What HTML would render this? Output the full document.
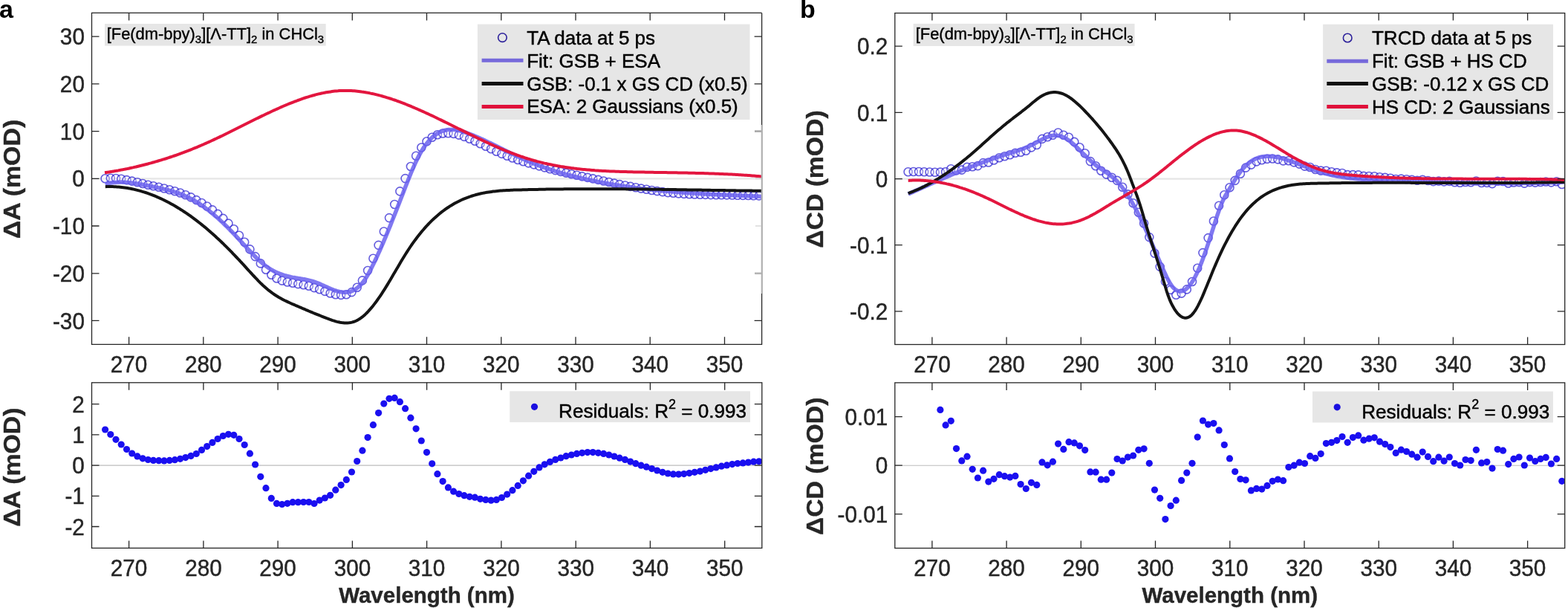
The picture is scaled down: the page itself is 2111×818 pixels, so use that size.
<!DOCTYPE html>
<html><head><meta charset="utf-8"><style>
html,body{margin:0;padding:0;background:#fff;}
svg{display:block;font-family:"Liberation Sans", Arial, Helvetica, sans-serif;}
</style></head><body>
<svg width="2111" height="818" viewBox="0 0 2111 818">
<rect width="2111" height="818" fill="#fff"/>
<line x1="123.5" y1="240.3" x2="1025.6" y2="240.3" stroke="#e6e6e6" stroke-width="2.2"/>
<line x1="123.5" y1="626.1" x2="1025.8" y2="626.1" stroke="#bcbcbc" stroke-width="1.1"/>
<line x1="1204.8" y1="240.6" x2="2106.7" y2="240.6" stroke="#e6e6e6" stroke-width="2.2"/>
<line x1="1204.8" y1="626.2" x2="2106.7" y2="626.2" stroke="#bcbcbc" stroke-width="1.1"/>
<rect x="141" y="32" width="297.7" height="29.6" fill="#e6e6e6"/>
<rect x="1229.6" y="31.9" width="297.9" height="30.1" fill="#e6e6e6"/>
<text x="143.7" y="52.6" font-size="20.5" fill="#000" stroke="#000" stroke-width="0.35" textLength="292.5" lengthAdjust="spacingAndGlyphs" transform="matrix(1 0 0 1.11 0 -5.79)">[Fe(dm-bpy)<tspan font-size="14" dy="5">3</tspan><tspan dy="-5">][Λ-TT]</tspan><tspan font-size="14" dy="5">2</tspan><tspan dy="-5"> in CHCl</tspan><tspan font-size="14" dy="5">3</tspan></text>
<text x="1232.7" y="52.8" font-size="20.5" fill="#000" stroke="#000" stroke-width="0.35" textLength="293" lengthAdjust="spacingAndGlyphs" transform="matrix(1 0 0 1.11 0 -5.81)">[Fe(dm-bpy)<tspan font-size="14" dy="5">3</tspan><tspan dy="-5">][Λ-TT]</tspan><tspan font-size="14" dy="5">2</tspan><tspan dy="-5"> in CHCl</tspan><tspan font-size="14" dy="5">3</tspan></text>
<clipPath id="c139893424573904"><rect x="123.5" y="17.4" width="902.0999999999999" height="445.90000000000003"/></clipPath>
<g clip-path="url(#c139893424573904)">
<g fill="#fff" fill-opacity="0.3" stroke="#2418d0" stroke-opacity="0.7" stroke-width="1.6"><circle cx="141.6" cy="240.2" r="5.5"/><circle cx="148.8" cy="239.7" r="5.5"/><circle cx="156.0" cy="240.0" r="5.5"/><circle cx="163.2" cy="240.8" r="5.5"/><circle cx="170.5" cy="242.1" r="5.5"/><circle cx="177.7" cy="243.6" r="5.5"/><circle cx="184.9" cy="245.3" r="5.5"/><circle cx="192.1" cy="247.0" r="5.5"/><circle cx="199.3" cy="248.7" r="5.5"/><circle cx="206.5" cy="250.3" r="5.5"/><circle cx="213.8" cy="251.8" r="5.5"/><circle cx="221.0" cy="253.5" r="5.5"/><circle cx="228.2" cy="255.2" r="5.5"/><circle cx="235.4" cy="257.3" r="5.5"/><circle cx="242.6" cy="259.5" r="5.5"/><circle cx="249.8" cy="262.2" r="5.5"/><circle cx="257.0" cy="265.4" r="5.5"/><circle cx="264.3" cy="269.1" r="5.5"/><circle cx="271.5" cy="273.0" r="5.5"/><circle cx="278.7" cy="277.5" r="5.5"/><circle cx="285.9" cy="282.4" r="5.5"/><circle cx="293.1" cy="287.9" r="5.5"/><circle cx="300.3" cy="293.9" r="5.5"/><circle cx="307.5" cy="300.6" r="5.5"/><circle cx="314.8" cy="308.2" r="5.5"/><circle cx="322.0" cy="316.7" r="5.5"/><circle cx="329.2" cy="325.8" r="5.5"/><circle cx="336.4" cy="335.4" r="5.5"/><circle cx="343.6" cy="345.1" r="5.5"/><circle cx="350.8" cy="354.4" r="5.5"/><circle cx="358.0" cy="362.7" r="5.5"/><circle cx="365.3" cy="369.7" r="5.5"/><circle cx="372.5" cy="374.5" r="5.5"/><circle cx="379.7" cy="377.6" r="5.5"/><circle cx="386.9" cy="379.5" r="5.5"/><circle cx="394.1" cy="380.8" r="5.5"/><circle cx="401.3" cy="382.1" r="5.5"/><circle cx="408.6" cy="383.3" r="5.5"/><circle cx="415.8" cy="384.8" r="5.5"/><circle cx="423.0" cy="387.1" r="5.5"/><circle cx="430.2" cy="389.2" r="5.5"/><circle cx="437.4" cy="391.9" r="5.5"/><circle cx="444.6" cy="394.5" r="5.5"/><circle cx="451.8" cy="396.2" r="5.5"/><circle cx="459.1" cy="396.9" r="5.5"/><circle cx="466.3" cy="396.2" r="5.5"/><circle cx="473.5" cy="393.1" r="5.5"/><circle cx="480.7" cy="386.8" r="5.5"/><circle cx="487.9" cy="377.4" r="5.5"/><circle cx="495.1" cy="364.0" r="5.5"/><circle cx="502.4" cy="347.7" r="5.5"/><circle cx="509.6" cy="329.9" r="5.5"/><circle cx="516.8" cy="311.5" r="5.5"/><circle cx="524.0" cy="293.1" r="5.5"/><circle cx="531.2" cy="275.0" r="5.5"/><circle cx="538.4" cy="257.4" r="5.5"/><circle cx="545.6" cy="240.1" r="5.5"/><circle cx="552.9" cy="224.0" r="5.5"/><circle cx="560.1" cy="209.8" r="5.5"/><circle cx="567.3" cy="198.5" r="5.5"/><circle cx="574.5" cy="190.3" r="5.5"/><circle cx="581.7" cy="184.7" r="5.5"/><circle cx="588.9" cy="181.3" r="5.5"/><circle cx="596.1" cy="179.5" r="5.5"/><circle cx="603.4" cy="179.2" r="5.5"/><circle cx="610.6" cy="179.9" r="5.5"/><circle cx="617.8" cy="181.6" r="5.5"/><circle cx="625.0" cy="183.9" r="5.5"/><circle cx="632.2" cy="186.8" r="5.5"/><circle cx="639.4" cy="189.8" r="5.5"/><circle cx="646.6" cy="193.3" r="5.5"/><circle cx="653.9" cy="196.7" r="5.5"/><circle cx="661.1" cy="200.3" r="5.5"/><circle cx="668.3" cy="203.7" r="5.5"/><circle cx="675.5" cy="206.9" r="5.5"/><circle cx="682.7" cy="209.8" r="5.5"/><circle cx="689.9" cy="212.5" r="5.5"/><circle cx="697.2" cy="215.0" r="5.5"/><circle cx="704.4" cy="217.3" r="5.5"/><circle cx="711.6" cy="219.4" r="5.5"/><circle cx="718.8" cy="221.4" r="5.5"/><circle cx="726.0" cy="223.4" r="5.5"/><circle cx="733.2" cy="225.4" r="5.5"/><circle cx="740.4" cy="227.3" r="5.5"/><circle cx="747.7" cy="229.1" r="5.5"/><circle cx="754.9" cy="230.9" r="5.5"/><circle cx="762.1" cy="232.6" r="5.5"/><circle cx="769.3" cy="234.3" r="5.5"/><circle cx="776.5" cy="235.8" r="5.5"/><circle cx="783.7" cy="237.4" r="5.5"/><circle cx="791.0" cy="238.9" r="5.5"/><circle cx="798.2" cy="240.4" r="5.5"/><circle cx="805.4" cy="241.9" r="5.5"/><circle cx="812.6" cy="243.5" r="5.5"/><circle cx="819.8" cy="245.0" r="5.5"/><circle cx="827.0" cy="246.6" r="5.5"/><circle cx="834.2" cy="248.1" r="5.5"/><circle cx="841.5" cy="249.5" r="5.5"/><circle cx="848.7" cy="250.9" r="5.5"/><circle cx="855.9" cy="252.3" r="5.5"/><circle cx="863.1" cy="253.6" r="5.5"/><circle cx="870.3" cy="254.8" r="5.5"/><circle cx="877.5" cy="256.0" r="5.5"/><circle cx="884.7" cy="257.1" r="5.5"/><circle cx="892.0" cy="258.1" r="5.5"/><circle cx="899.2" cy="259.1" r="5.5"/><circle cx="906.4" cy="259.8" r="5.5"/><circle cx="913.6" cy="260.4" r="5.5"/><circle cx="920.8" cy="260.9" r="5.5"/><circle cx="928.0" cy="261.3" r="5.5"/><circle cx="935.2" cy="261.5" r="5.5"/><circle cx="942.5" cy="261.8" r="5.5"/><circle cx="949.7" cy="261.9" r="5.5"/><circle cx="956.9" cy="262.1" r="5.5"/><circle cx="964.1" cy="262.2" r="5.5"/><circle cx="971.3" cy="262.3" r="5.5"/><circle cx="978.5" cy="262.4" r="5.5"/><circle cx="985.8" cy="262.5" r="5.5"/><circle cx="993.0" cy="262.7" r="5.5"/><circle cx="1000.2" cy="262.9" r="5.5"/><circle cx="1007.4" cy="263.0" r="5.5"/><circle cx="1014.6" cy="263.2" r="5.5"/><circle cx="1021.8" cy="263.4" r="5.5"/></g>
<path d="M141.6 247.6 L143.6 247.1 L145.6 246.7 L147.6 246.3 L149.6 246.0 L151.6 245.8 L153.6 245.5 L155.6 245.4 L157.6 245.3 L159.6 245.2 L161.6 245.1 L163.6 245.1 L165.6 245.2 L167.6 245.3 L169.6 245.4 L171.6 245.5 L173.6 245.7 L175.6 245.9 L177.6 246.1 L179.6 246.4 L181.6 246.7 L183.6 247.0 L185.6 247.3 L187.6 247.6 L189.6 248.0 L191.6 248.3 L193.6 248.7 L195.6 249.1 L197.6 249.5 L199.6 249.9 L201.6 250.3 L203.6 250.7 L205.6 251.1 L207.6 251.5 L209.6 251.9 L211.6 252.3 L213.6 252.8 L215.6 253.2 L217.6 253.7 L219.6 254.1 L221.6 254.6 L223.6 255.1 L225.6 255.6 L227.6 256.1 L229.6 256.7 L231.6 257.2 L233.6 257.8 L235.6 258.5 L237.6 259.1 L239.6 259.8 L241.6 260.5 L243.6 261.3 L245.6 262.1 L247.6 262.9 L249.6 263.8 L251.6 264.7 L253.6 265.6 L255.6 266.6 L257.6 267.7 L259.6 268.8 L261.6 269.9 L263.6 271.1 L265.6 272.3 L267.6 273.6 L269.6 274.9 L271.6 276.2 L273.6 277.7 L275.6 279.1 L277.6 280.6 L279.6 282.1 L281.6 283.7 L283.6 285.3 L285.6 286.9 L287.6 288.6 L289.6 290.3 L291.6 292.0 L293.6 293.8 L295.6 295.6 L297.6 297.5 L299.6 299.3 L301.6 301.2 L303.6 303.2 L305.6 305.1 L307.6 307.1 L309.6 309.2 L311.6 311.2 L313.6 313.3 L315.6 315.4 L317.6 317.5 L319.6 319.7 L321.6 321.8 L323.6 324.0 L325.6 326.2 L327.6 328.4 L329.6 330.5 L331.6 332.7 L333.6 334.9 L335.6 337.0 L337.6 339.1 L339.6 341.2 L341.6 343.2 L343.6 345.2 L345.6 347.2 L347.6 349.1 L349.6 350.9 L351.6 352.7 L353.6 354.4 L355.6 356.1 L357.6 357.6 L359.6 359.1 L361.6 360.5 L363.6 361.8 L365.6 363.0 L367.6 364.2 L369.6 365.2 L371.6 366.2 L373.6 367.1 L375.6 367.9 L377.6 368.7 L379.6 369.4 L381.6 370.1 L383.6 370.7 L385.6 371.2 L387.6 371.8 L389.6 372.2 L391.6 372.7 L393.6 373.1 L395.6 373.4 L397.6 373.8 L399.6 374.1 L401.6 374.5 L403.6 374.8 L405.6 375.1 L407.6 375.5 L409.6 375.8 L411.6 376.2 L413.6 376.6 L415.6 377.1 L417.6 377.6 L419.6 378.1 L421.6 378.7 L423.6 379.3 L425.6 380.1 L427.6 380.8 L429.6 381.6 L431.6 382.5 L433.6 383.4 L435.6 384.3 L437.6 385.2 L439.6 386.1 L441.6 387.0 L443.6 387.9 L445.6 388.7 L447.6 389.5 L449.6 390.3 L451.6 391.0 L453.6 391.6 L455.6 392.1 L457.6 392.6 L459.6 392.9 L461.6 393.2 L463.6 393.3 L465.6 393.3 L467.6 393.1 L469.6 392.8 L471.6 392.3 L473.6 391.6 L475.6 390.8 L477.6 389.7 L479.6 388.4 L481.6 386.9 L483.6 385.2 L485.6 383.2 L487.6 380.9 L489.6 378.4 L491.6 375.5 L493.6 372.4 L495.6 369.0 L497.6 365.3 L499.6 361.5 L501.6 357.6 L503.6 353.5 L505.6 349.3 L507.6 345.1 L509.6 340.7 L511.6 336.3 L513.6 331.7 L515.6 327.1 L517.6 322.4 L519.6 317.7 L521.6 312.9 L523.6 308.0 L525.6 303.1 L527.6 298.1 L529.6 293.1 L531.6 288.0 L533.6 282.9 L535.6 277.8 L537.6 272.7 L539.6 267.5 L541.6 262.4 L543.6 257.2 L545.6 252.1 L547.6 246.9 L549.6 241.9 L551.6 236.9 L553.6 232.0 L555.6 227.3 L557.6 222.8 L559.6 218.4 L561.6 214.2 L563.6 210.3 L565.6 206.6 L567.6 203.1 L569.6 199.9 L571.6 196.9 L573.6 194.1 L575.6 191.6 L577.6 189.2 L579.6 187.1 L581.6 185.1 L583.6 183.4 L585.6 181.8 L587.6 180.4 L589.6 179.1 L591.6 178.0 L593.6 177.1 L595.6 176.3 L597.6 175.7 L599.6 175.2 L601.6 174.8 L603.6 174.6 L605.6 174.4 L607.6 174.4 L609.6 174.5 L611.6 174.6 L613.6 174.9 L615.6 175.2 L617.6 175.6 L619.6 176.1 L621.6 176.6 L623.6 177.2 L625.6 177.9 L627.6 178.5 L629.6 179.3 L631.6 180.0 L633.6 180.8 L635.6 181.6 L637.6 182.4 L639.6 183.2 L641.6 184.1 L643.6 184.9 L645.6 185.8 L647.6 186.7 L649.6 187.6 L651.6 188.5 L653.6 189.5 L655.6 190.4 L657.6 191.4 L659.6 192.3 L661.6 193.3 L663.6 194.3 L665.6 195.2 L667.6 196.2 L669.6 197.2 L671.6 198.2 L673.6 199.2 L675.6 200.2 L677.6 201.2 L679.6 202.2 L681.6 203.2 L683.6 204.2 L685.6 205.2 L687.6 206.1 L689.6 207.1 L691.6 208.1 L693.6 209.0 L695.6 210.0 L697.6 210.9 L699.6 211.9 L701.6 212.8 L703.6 213.7 L705.6 214.6 L707.6 215.5 L709.6 216.4 L711.6 217.2 L713.6 218.1 L715.6 218.9 L717.6 219.7 L719.6 220.5 L721.6 221.3 L723.6 222.0 L725.6 222.8 L727.6 223.5 L729.6 224.3 L731.6 225.0 L733.6 225.7 L735.6 226.4 L737.6 227.1 L739.6 227.7 L741.6 228.4 L743.6 229.0 L745.6 229.7 L747.6 230.3 L749.6 230.9 L751.6 231.5 L753.6 232.1 L755.6 232.7 L757.6 233.3 L759.6 233.8 L761.6 234.4 L763.6 234.9 L765.6 235.5 L767.6 236.0 L769.6 236.5 L771.6 237.0 L773.6 237.5 L775.6 238.0 L777.6 238.5 L779.6 239.0 L781.6 239.5 L783.6 239.9 L785.6 240.4 L787.6 240.8 L789.6 241.3 L791.6 241.7 L793.6 242.1 L795.6 242.5 L797.6 243.0 L799.6 243.4 L801.6 243.8 L803.6 244.2 L805.6 244.6 L807.6 245.0 L809.6 245.3 L811.6 245.7 L813.6 246.1 L815.6 246.4 L817.6 246.8 L819.6 247.2 L821.6 247.5 L823.6 247.8 L825.6 248.2 L827.6 248.5 L829.6 248.8 L831.6 249.2 L833.6 249.5 L835.6 249.8 L837.6 250.1 L839.6 250.4 L841.6 250.7 L843.6 251.0 L845.6 251.3 L847.6 251.6 L849.6 251.8 L851.6 252.1 L853.6 252.4 L855.6 252.6 L857.6 252.9 L859.6 253.2 L861.6 253.4 L863.6 253.7 L865.6 253.9 L867.6 254.1 L869.6 254.4 L871.6 254.6 L873.6 254.8 L875.6 255.1 L877.6 255.3 L879.6 255.5 L881.6 255.7 L883.6 255.9 L885.6 256.1 L887.6 256.3 L889.6 256.5 L891.6 256.7 L893.6 256.9 L895.6 257.1 L897.6 257.2 L899.6 257.4 L901.6 257.6 L903.6 257.8 L905.6 257.9 L907.6 258.1 L909.6 258.3 L911.6 258.4 L913.6 258.6 L915.6 258.7 L917.6 258.9 L919.6 259.0 L921.6 259.2 L923.6 259.3 L925.6 259.5 L927.6 259.6 L929.6 259.8 L931.6 259.9 L933.6 260.0 L935.6 260.1 L937.6 260.3 L939.6 260.4 L941.6 260.5 L943.6 260.6 L945.6 260.8 L947.6 260.9 L949.6 261.0 L951.6 261.1 L953.6 261.2 L955.6 261.3 L957.6 261.4 L959.6 261.5 L961.6 261.6 L963.6 261.7 L965.6 261.8 L967.6 261.9 L969.6 262.0 L971.6 262.1 L973.6 262.2 L975.6 262.3 L977.6 262.4 L979.6 262.5 L981.6 262.6 L983.6 262.7 L985.6 262.8 L987.6 262.8 L989.6 262.9 L991.6 263.0 L993.6 263.1 L995.6 263.2 L997.6 263.3 L999.6 263.3 L1001.6 263.4 L1003.6 263.5 L1005.6 263.6 L1007.6 263.7 L1009.6 263.7 L1011.6 263.8 L1013.6 263.9 L1015.6 264.0 L1017.6 264.1 L1019.6 264.1 L1021.6 264.2 L1023.6 264.3 L1025.2 264.4" fill="none" stroke="#6a60ee" stroke-width="5.5" stroke-linejoin="round" opacity="0.85"/>
<path d="M141.8 251.2 L143.8 251.1 L145.8 251.1 L147.8 251.1 L149.8 251.1 L151.8 251.1 L153.8 251.2 L155.8 251.3 L157.8 251.4 L159.8 251.6 L161.8 251.8 L163.8 252.0 L165.8 252.2 L167.8 252.5 L169.8 252.8 L171.8 253.1 L173.8 253.4 L175.8 253.8 L177.8 254.2 L179.8 254.6 L181.8 255.1 L183.8 255.6 L185.8 256.1 L187.8 256.6 L189.8 257.2 L191.8 257.8 L193.8 258.4 L195.8 259.0 L197.8 259.7 L199.8 260.4 L201.8 261.1 L203.8 261.8 L205.8 262.6 L207.8 263.4 L209.8 264.2 L211.8 265.1 L213.8 266.0 L215.8 266.9 L217.8 267.8 L219.8 268.7 L221.8 269.7 L223.8 270.7 L225.8 271.8 L227.8 272.8 L229.8 273.9 L231.8 275.0 L233.8 276.1 L235.8 277.3 L237.8 278.5 L239.8 279.7 L241.8 280.9 L243.8 282.2 L245.8 283.4 L247.8 284.8 L249.8 286.1 L251.8 287.4 L253.8 288.8 L255.8 290.2 L257.8 291.7 L259.8 293.1 L261.8 294.6 L263.8 296.1 L265.8 297.6 L267.8 299.2 L269.8 300.8 L271.8 302.4 L273.8 304.0 L275.8 305.6 L277.8 307.3 L279.8 309.0 L281.8 310.7 L283.8 312.5 L285.8 314.2 L287.8 316.0 L289.8 317.8 L291.8 319.7 L293.8 321.5 L295.8 323.4 L297.8 325.3 L299.8 327.2 L301.8 329.2 L303.8 331.1 L305.8 333.1 L307.8 335.1 L309.8 337.2 L311.8 339.2 L313.8 341.3 L315.8 343.4 L317.8 345.5 L319.8 347.6 L321.8 349.7 L323.8 351.9 L325.8 354.0 L327.8 356.2 L329.8 358.4 L331.8 360.6 L333.8 362.8 L335.8 365.0 L337.8 367.2 L339.8 369.4 L341.8 371.5 L343.8 373.6 L345.8 375.7 L347.8 377.8 L349.8 379.8 L351.8 381.8 L353.8 383.7 L355.8 385.5 L357.8 387.3 L359.8 389.0 L361.8 390.7 L363.8 392.2 L365.8 393.7 L367.8 395.1 L369.8 396.5 L371.8 397.8 L373.8 399.0 L375.8 400.2 L377.8 401.3 L379.8 402.4 L381.8 403.5 L383.8 404.5 L385.8 405.4 L387.8 406.4 L389.8 407.3 L391.8 408.2 L393.8 409.1 L395.8 409.9 L397.8 410.8 L399.8 411.6 L401.8 412.5 L403.8 413.4 L405.8 414.2 L407.8 415.1 L409.8 415.9 L411.8 416.8 L413.8 417.6 L415.8 418.5 L417.8 419.3 L419.8 420.1 L421.8 421.0 L423.8 421.8 L425.8 422.6 L427.8 423.4 L429.8 424.2 L431.8 425.0 L433.8 425.8 L435.8 426.6 L437.8 427.4 L439.8 428.2 L441.8 428.9 L443.8 429.7 L445.8 430.4 L447.8 431.1 L449.8 431.7 L451.8 432.3 L453.8 432.9 L455.8 433.3 L457.8 433.8 L459.8 434.1 L461.8 434.3 L463.8 434.5 L465.8 434.6 L467.8 434.5 L469.8 434.3 L471.8 434.0 L473.8 433.6 L475.8 433.0 L477.8 432.3 L479.8 431.5 L481.8 430.4 L483.8 429.2 L485.8 427.9 L487.8 426.4 L489.8 424.7 L491.8 422.9 L493.8 421.0 L495.8 418.9 L497.8 416.7 L499.8 414.4 L501.8 412.0 L503.8 409.4 L505.8 406.8 L507.8 404.0 L509.8 401.2 L511.8 398.3 L513.8 395.3 L515.8 392.2 L517.8 389.1 L519.8 385.9 L521.8 382.6 L523.8 379.3 L525.8 375.9 L527.8 372.5 L529.8 369.1 L531.8 365.7 L533.8 362.3 L535.8 358.9 L537.8 355.5 L539.8 352.1 L541.8 348.8 L543.8 345.5 L545.8 342.3 L547.8 339.1 L549.8 336.0 L551.8 333.0 L553.8 330.0 L555.8 327.2 L557.8 324.4 L559.8 321.7 L561.8 319.0 L563.8 316.5 L565.8 314.0 L567.8 311.5 L569.8 309.2 L571.8 306.9 L573.8 304.7 L575.8 302.5 L577.8 300.4 L579.8 298.4 L581.8 296.4 L583.8 294.5 L585.8 292.7 L587.8 290.9 L589.8 289.2 L591.8 287.5 L593.8 285.9 L595.8 284.3 L597.8 282.9 L599.8 281.4 L601.8 280.0 L603.8 278.7 L605.8 277.4 L607.8 276.2 L609.8 275.0 L611.8 273.8 L613.8 272.7 L615.8 271.7 L617.8 270.7 L619.8 269.7 L621.8 268.8 L623.8 267.9 L625.8 267.1 L627.8 266.3 L629.8 265.6 L631.8 264.8 L633.8 264.2 L635.8 263.5 L637.8 262.9 L639.8 262.3 L641.8 261.8 L643.8 261.3 L645.8 260.8 L647.8 260.3 L649.8 259.9 L651.8 259.5 L653.8 259.1 L655.8 258.8 L657.8 258.5 L659.8 258.2 L661.8 257.9 L663.8 257.6 L665.8 257.4 L667.8 257.2 L669.8 257.0 L671.8 256.8 L673.8 256.6 L675.8 256.5 L677.8 256.3 L679.8 256.2 L681.8 256.1 L683.8 256.0 L685.8 255.9 L687.8 255.8 L689.8 255.7 L691.8 255.6 L693.8 255.6 L695.8 255.5 L697.8 255.5 L699.8 255.4 L701.8 255.4 L703.8 255.3 L705.8 255.3 L707.8 255.2 L709.8 255.2 L711.8 255.1 L713.8 255.1 L715.8 255.0 L717.8 255.0 L719.8 254.9 L721.8 254.9 L723.8 254.9 L725.8 254.8 L727.8 254.8 L729.8 254.7 L731.8 254.7 L733.8 254.7 L735.8 254.6 L737.8 254.6 L739.8 254.6 L741.8 254.6 L743.8 254.5 L745.8 254.5 L747.8 254.5 L749.8 254.5 L751.8 254.4 L753.8 254.4 L755.8 254.4 L757.8 254.4 L759.8 254.3 L761.8 254.3 L763.8 254.3 L765.8 254.3 L767.8 254.3 L769.8 254.3 L771.8 254.3 L773.8 254.2 L775.8 254.2 L777.8 254.2 L779.8 254.2 L781.8 254.2 L783.8 254.2 L785.8 254.2 L787.8 254.2 L789.8 254.2 L791.8 254.2 L793.8 254.2 L795.8 254.2 L797.8 254.2 L799.8 254.2 L801.8 254.2 L803.8 254.2 L805.8 254.2 L807.8 254.2 L809.8 254.2 L811.8 254.2 L813.8 254.2 L815.8 254.2 L817.8 254.2 L819.8 254.2 L821.8 254.2 L823.8 254.2 L825.8 254.2 L827.8 254.3 L829.8 254.3 L831.8 254.3 L833.8 254.3 L835.8 254.3 L837.8 254.3 L839.8 254.3 L841.8 254.3 L843.8 254.4 L845.8 254.4 L847.8 254.4 L849.8 254.4 L851.8 254.4 L853.8 254.4 L855.8 254.5 L857.8 254.5 L859.8 254.5 L861.8 254.5 L863.8 254.5 L865.8 254.6 L867.8 254.6 L869.8 254.6 L871.8 254.6 L873.8 254.7 L875.8 254.7 L877.8 254.7 L879.8 254.7 L881.8 254.7 L883.8 254.8 L885.8 254.8 L887.8 254.8 L889.8 254.8 L891.8 254.9 L893.8 254.9 L895.8 254.9 L897.8 255.0 L899.8 255.0 L901.8 255.0 L903.8 255.0 L905.8 255.1 L907.8 255.1 L909.8 255.1 L911.8 255.2 L913.8 255.2 L915.8 255.2 L917.8 255.2 L919.8 255.3 L921.8 255.3 L923.8 255.3 L925.8 255.4 L927.8 255.4 L929.8 255.4 L931.8 255.5 L933.8 255.5 L935.8 255.5 L937.8 255.5 L939.8 255.6 L941.8 255.6 L943.8 255.6 L945.8 255.7 L947.8 255.7 L949.8 255.7 L951.8 255.8 L953.8 255.8 L955.8 255.8 L957.8 255.9 L959.8 255.9 L961.8 255.9 L963.8 256.0 L965.8 256.0 L967.8 256.0 L969.8 256.0 L971.8 256.1 L973.8 256.1 L975.8 256.1 L977.8 256.2 L979.8 256.2 L981.8 256.2 L983.8 256.3 L985.8 256.3 L987.8 256.3 L989.8 256.3 L991.8 256.4 L993.8 256.4 L995.8 256.4 L997.8 256.5 L999.8 256.5 L1001.8 256.5 L1003.8 256.5 L1005.8 256.6 L1007.8 256.6 L1009.8 256.6 L1011.8 256.6 L1013.8 256.7 L1015.8 256.7 L1017.8 256.7 L1019.8 256.7 L1021.8 256.8 L1023.8 256.8 L1025.2 256.8" fill="none" stroke="#141414" stroke-width="4" stroke-linejoin="round"/>
<path d="M141.0 232.3 L143.0 232.0 L145.0 231.7 L147.0 231.4 L149.0 231.1 L151.0 230.7 L153.0 230.4 L155.0 230.1 L157.0 229.7 L159.0 229.4 L161.0 229.0 L163.0 228.6 L165.0 228.3 L167.0 227.9 L169.0 227.5 L171.0 227.1 L173.0 226.7 L175.0 226.2 L177.0 225.8 L179.0 225.4 L181.0 224.9 L183.0 224.5 L185.0 224.0 L187.0 223.5 L189.0 223.0 L191.0 222.5 L193.0 222.0 L195.0 221.5 L197.0 221.0 L199.0 220.5 L201.0 219.9 L203.0 219.4 L205.0 218.8 L207.0 218.3 L209.0 217.7 L211.0 217.1 L213.0 216.5 L215.0 215.9 L217.0 215.3 L219.0 214.7 L221.0 214.1 L223.0 213.5 L225.0 212.8 L227.0 212.2 L229.0 211.5 L231.0 210.8 L233.0 210.2 L235.0 209.5 L237.0 208.8 L239.0 208.1 L241.0 207.4 L243.0 206.6 L245.0 205.9 L247.0 205.2 L249.0 204.4 L251.0 203.6 L253.0 202.9 L255.0 202.1 L257.0 201.3 L259.0 200.5 L261.0 199.7 L263.0 198.9 L265.0 198.1 L267.0 197.2 L269.0 196.4 L271.0 195.5 L273.0 194.7 L275.0 193.8 L277.0 192.9 L279.0 192.0 L281.0 191.1 L283.0 190.2 L285.0 189.3 L287.0 188.4 L289.0 187.4 L291.0 186.5 L293.0 185.5 L295.0 184.6 L297.0 183.6 L299.0 182.7 L301.0 181.7 L303.0 180.7 L305.0 179.7 L307.0 178.8 L309.0 177.8 L311.0 176.8 L313.0 175.8 L315.0 174.8 L317.0 173.8 L319.0 172.8 L321.0 171.8 L323.0 170.8 L325.0 169.8 L327.0 168.8 L329.0 167.8 L331.0 166.8 L333.0 165.8 L335.0 164.8 L337.0 163.8 L339.0 162.8 L341.0 161.8 L343.0 160.8 L345.0 159.8 L347.0 158.9 L349.0 157.9 L351.0 156.9 L353.0 155.9 L355.0 155.0 L357.0 154.0 L359.0 153.0 L361.0 152.1 L363.0 151.2 L365.0 150.2 L367.0 149.3 L369.0 148.4 L371.0 147.5 L373.0 146.6 L375.0 145.7 L377.0 144.8 L379.0 143.9 L381.0 143.0 L383.0 142.2 L385.0 141.3 L387.0 140.5 L389.0 139.7 L391.0 138.9 L393.0 138.1 L395.0 137.3 L397.0 136.5 L399.0 135.8 L401.0 135.0 L403.0 134.3 L405.0 133.6 L407.0 132.9 L409.0 132.2 L411.0 131.5 L413.0 130.9 L415.0 130.3 L417.0 129.7 L419.0 129.1 L421.0 128.5 L423.0 128.0 L425.0 127.4 L427.0 126.9 L429.0 126.4 L431.0 126.0 L433.0 125.5 L435.0 125.1 L437.0 124.7 L439.0 124.3 L441.0 124.0 L443.0 123.7 L445.0 123.4 L447.0 123.1 L449.0 122.8 L451.0 122.6 L453.0 122.4 L455.0 122.3 L457.0 122.1 L459.0 122.0 L461.0 121.9 L463.0 121.9 L465.0 121.9 L467.0 121.9 L469.0 121.9 L471.0 122.0 L473.0 122.1 L475.0 122.2 L477.0 122.3 L479.0 122.5 L481.0 122.7 L483.0 122.9 L485.0 123.2 L487.0 123.5 L489.0 123.7 L491.0 124.1 L493.0 124.4 L495.0 124.8 L497.0 125.1 L499.0 125.6 L501.0 126.0 L503.0 126.4 L505.0 126.9 L507.0 127.4 L509.0 127.9 L511.0 128.4 L513.0 128.9 L515.0 129.5 L517.0 130.1 L519.0 130.7 L521.0 131.3 L523.0 131.9 L525.0 132.5 L527.0 133.2 L529.0 133.9 L531.0 134.5 L533.0 135.2 L535.0 136.0 L537.0 136.7 L539.0 137.4 L541.0 138.2 L543.0 138.9 L545.0 139.7 L547.0 140.5 L549.0 141.3 L551.0 142.1 L553.0 142.9 L555.0 143.8 L557.0 144.6 L559.0 145.5 L561.0 146.3 L563.0 147.2 L565.0 148.1 L567.0 149.0 L569.0 149.9 L571.0 150.8 L573.0 151.7 L575.0 152.6 L577.0 153.5 L579.0 154.5 L581.0 155.4 L583.0 156.3 L585.0 157.3 L587.0 158.2 L589.0 159.2 L591.0 160.2 L593.0 161.1 L595.0 162.1 L597.0 163.1 L599.0 164.1 L601.0 165.0 L603.0 166.0 L605.0 167.0 L607.0 168.0 L609.0 169.0 L611.0 170.0 L613.0 171.0 L615.0 172.0 L617.0 173.0 L619.0 173.9 L621.0 174.9 L623.0 175.9 L625.0 176.9 L627.0 177.9 L629.0 178.9 L631.0 179.9 L633.0 180.9 L635.0 181.8 L637.0 182.8 L639.0 183.8 L641.0 184.8 L643.0 185.7 L645.0 186.7 L647.0 187.6 L649.0 188.6 L651.0 189.5 L653.0 190.5 L655.0 191.4 L657.0 192.3 L659.0 193.2 L661.0 194.2 L663.0 195.1 L665.0 196.0 L667.0 196.8 L669.0 197.7 L671.0 198.6 L673.0 199.5 L675.0 200.3 L677.0 201.1 L679.0 202.0 L681.0 202.8 L683.0 203.6 L685.0 204.4 L687.0 205.2 L689.0 206.0 L691.0 206.7 L693.0 207.5 L695.0 208.2 L697.0 209.0 L699.0 209.7 L701.0 210.4 L703.0 211.0 L705.0 211.7 L707.0 212.4 L709.0 213.0 L711.0 213.6 L713.0 214.2 L715.0 214.8 L717.0 215.4 L719.0 216.0 L721.0 216.5 L723.0 217.1 L725.0 217.6 L727.0 218.1 L729.0 218.6 L731.0 219.1 L733.0 219.6 L735.0 220.0 L737.0 220.5 L739.0 220.9 L741.0 221.3 L743.0 221.7 L745.0 222.1 L747.0 222.5 L749.0 222.9 L751.0 223.3 L753.0 223.6 L755.0 224.0 L757.0 224.3 L759.0 224.6 L761.0 224.9 L763.0 225.2 L765.0 225.5 L767.0 225.8 L769.0 226.1 L771.0 226.3 L773.0 226.6 L775.0 226.8 L777.0 227.1 L779.0 227.3 L781.0 227.5 L783.0 227.7 L785.0 227.9 L787.0 228.1 L789.0 228.3 L791.0 228.5 L793.0 228.6 L795.0 228.8 L797.0 229.0 L799.0 229.1 L801.0 229.3 L803.0 229.4 L805.0 229.5 L807.0 229.7 L809.0 229.8 L811.0 229.9 L813.0 230.0 L815.0 230.1 L817.0 230.2 L819.0 230.3 L821.0 230.4 L823.0 230.5 L825.0 230.6 L827.0 230.6 L829.0 230.7 L831.0 230.8 L833.0 230.8 L835.0 230.9 L837.0 231.0 L839.0 231.0 L841.0 231.1 L843.0 231.1 L845.0 231.2 L847.0 231.2 L849.0 231.3 L851.0 231.3 L853.0 231.4 L855.0 231.4 L857.0 231.4 L859.0 231.5 L861.0 231.5 L863.0 231.6 L865.0 231.6 L867.0 231.6 L869.0 231.7 L871.0 231.7 L873.0 231.7 L875.0 231.8 L877.0 231.8 L879.0 231.8 L881.0 231.9 L883.0 231.9 L885.0 231.9 L887.0 232.0 L889.0 232.0 L891.0 232.0 L893.0 232.1 L895.0 232.1 L897.0 232.1 L899.0 232.2 L901.0 232.2 L903.0 232.2 L905.0 232.2 L907.0 232.3 L909.0 232.3 L911.0 232.3 L913.0 232.4 L915.0 232.4 L917.0 232.5 L919.0 232.5 L921.0 232.5 L923.0 232.6 L925.0 232.6 L927.0 232.7 L929.0 232.7 L931.0 232.7 L933.0 232.8 L935.0 232.8 L937.0 232.9 L939.0 232.9 L941.0 233.0 L943.0 233.0 L945.0 233.1 L947.0 233.1 L949.0 233.2 L951.0 233.3 L953.0 233.3 L955.0 233.4 L957.0 233.5 L959.0 233.5 L961.0 233.6 L963.0 233.7 L965.0 233.7 L967.0 233.8 L969.0 233.9 L971.0 234.0 L973.0 234.1 L975.0 234.2 L977.0 234.2 L979.0 234.3 L981.0 234.4 L983.0 234.5 L985.0 234.6 L987.0 234.7 L989.0 234.8 L991.0 235.0 L993.0 235.1 L995.0 235.2 L997.0 235.3 L999.0 235.4 L1001.0 235.6 L1003.0 235.7 L1005.0 235.8 L1007.0 236.0 L1009.0 236.1 L1011.0 236.2 L1013.0 236.4 L1015.0 236.5 L1017.0 236.7 L1019.0 236.9 L1021.0 237.0 L1023.0 237.2 L1025.0 237.4 L1025.2 237.4" fill="none" stroke="#e3163f" stroke-width="4" stroke-linejoin="round"/>
</g>
<clipPath id="c139893424576784"><rect x="1204.8" y="17.6" width="901.8999999999999" height="445.9"/></clipPath>
<g clip-path="url(#c139893424576784)">
<g fill="#fff" fill-opacity="0.3" stroke="#2418d0" stroke-opacity="0.7" stroke-width="1.6"><circle cx="1222.6" cy="231.2" r="5.5"/><circle cx="1229.8" cy="231.0" r="5.5"/><circle cx="1237.0" cy="231.0" r="5.5"/><circle cx="1244.2" cy="231.2" r="5.5"/><circle cx="1251.5" cy="231.5" r="5.5"/><circle cx="1258.7" cy="231.8" r="5.5"/><circle cx="1265.9" cy="231.6" r="5.5"/><circle cx="1273.1" cy="231.2" r="5.5"/><circle cx="1280.3" cy="227.3" r="5.5"/><circle cx="1287.5" cy="229.4" r="5.5"/><circle cx="1294.8" cy="228.6" r="5.5"/><circle cx="1302.0" cy="224.9" r="5.5"/><circle cx="1309.2" cy="224.3" r="5.5"/><circle cx="1316.4" cy="223.1" r="5.5"/><circle cx="1323.6" cy="219.1" r="5.5"/><circle cx="1330.8" cy="218.5" r="5.5"/><circle cx="1338.0" cy="215.5" r="5.5"/><circle cx="1345.3" cy="212.3" r="5.5"/><circle cx="1352.5" cy="210.2" r="5.5"/><circle cx="1359.7" cy="208.2" r="5.5"/><circle cx="1366.9" cy="205.7" r="5.5"/><circle cx="1374.1" cy="204.7" r="5.5"/><circle cx="1381.3" cy="202.7" r="5.5"/><circle cx="1388.5" cy="198.4" r="5.5"/><circle cx="1395.8" cy="195.0" r="5.5"/><circle cx="1403.0" cy="186.9" r="5.5"/><circle cx="1410.2" cy="184.2" r="5.5"/><circle cx="1417.4" cy="181.7" r="5.5"/><circle cx="1424.6" cy="178.5" r="5.5"/><circle cx="1431.8" cy="181.7" r="5.5"/><circle cx="1439.0" cy="184.7" r="5.5"/><circle cx="1446.3" cy="190.9" r="5.5"/><circle cx="1453.5" cy="198.3" r="5.5"/><circle cx="1460.7" cy="206.2" r="5.5"/><circle cx="1467.9" cy="217.1" r="5.5"/><circle cx="1475.1" cy="223.2" r="5.5"/><circle cx="1482.3" cy="229.7" r="5.5"/><circle cx="1489.6" cy="234.6" r="5.5"/><circle cx="1496.8" cy="238.8" r="5.5"/><circle cx="1504.0" cy="242.9" r="5.5"/><circle cx="1511.2" cy="251.7" r="5.5"/><circle cx="1518.4" cy="261.4" r="5.5"/><circle cx="1525.6" cy="273.2" r="5.5"/><circle cx="1532.8" cy="285.7" r="5.5"/><circle cx="1540.1" cy="300.5" r="5.5"/><circle cx="1547.3" cy="319.1" r="5.5"/><circle cx="1554.5" cy="340.7" r="5.5"/><circle cx="1561.7" cy="358.9" r="5.5"/><circle cx="1568.9" cy="378.8" r="5.5"/><circle cx="1576.1" cy="389.9" r="5.5"/><circle cx="1583.3" cy="396.7" r="5.5"/><circle cx="1590.6" cy="394.6" r="5.5"/><circle cx="1597.8" cy="389.4" r="5.5"/><circle cx="1605.0" cy="379.0" r="5.5"/><circle cx="1612.2" cy="360.7" r="5.5"/><circle cx="1619.4" cy="340.1" r="5.5"/><circle cx="1626.6" cy="320.1" r="5.5"/><circle cx="1633.9" cy="297.5" r="5.5"/><circle cx="1641.1" cy="276.8" r="5.5"/><circle cx="1648.3" cy="262.3" r="5.5"/><circle cx="1655.5" cy="252.3" r="5.5"/><circle cx="1662.7" cy="242.9" r="5.5"/><circle cx="1669.9" cy="233.7" r="5.5"/><circle cx="1677.1" cy="225.6" r="5.5"/><circle cx="1684.4" cy="221.6" r="5.5"/><circle cx="1691.6" cy="217.4" r="5.5"/><circle cx="1698.8" cy="215.3" r="5.5"/><circle cx="1706.0" cy="213.9" r="5.5"/><circle cx="1713.2" cy="213.5" r="5.5"/><circle cx="1720.4" cy="214.4" r="5.5"/><circle cx="1727.6" cy="216.4" r="5.5"/><circle cx="1734.9" cy="216.2" r="5.5"/><circle cx="1742.1" cy="218.4" r="5.5"/><circle cx="1749.3" cy="220.6" r="5.5"/><circle cx="1756.5" cy="223.6" r="5.5"/><circle cx="1763.7" cy="225.0" r="5.5"/><circle cx="1770.9" cy="228.0" r="5.5"/><circle cx="1778.2" cy="229.6" r="5.5"/><circle cx="1785.4" cy="229.7" r="5.5"/><circle cx="1792.6" cy="231.3" r="5.5"/><circle cx="1799.8" cy="232.4" r="5.5"/><circle cx="1807.0" cy="233.0" r="5.5"/><circle cx="1814.2" cy="235.1" r="5.5"/><circle cx="1821.4" cy="235.1" r="5.5"/><circle cx="1828.7" cy="235.4" r="5.5"/><circle cx="1835.9" cy="236.9" r="5.5"/><circle cx="1843.1" cy="237.0" r="5.5"/><circle cx="1850.3" cy="237.2" r="5.5"/><circle cx="1857.5" cy="238.2" r="5.5"/><circle cx="1864.7" cy="238.9" r="5.5"/><circle cx="1871.9" cy="239.7" r="5.5"/><circle cx="1879.2" cy="241.0" r="5.5"/><circle cx="1886.4" cy="240.6" r="5.5"/><circle cx="1893.6" cy="241.2" r="5.5"/><circle cx="1900.8" cy="241.9" r="5.5"/><circle cx="1908.0" cy="242.7" r="5.5"/><circle cx="1915.2" cy="241.9" r="5.5"/><circle cx="1922.5" cy="243.0" r="5.5"/><circle cx="1929.7" cy="244.1" r="5.5"/><circle cx="1936.9" cy="243.6" r="5.5"/><circle cx="1944.1" cy="244.4" r="5.5"/><circle cx="1951.3" cy="243.9" r="5.5"/><circle cx="1958.5" cy="245.3" r="5.5"/><circle cx="1965.7" cy="245.8" r="5.5"/><circle cx="1973.0" cy="245.0" r="5.5"/><circle cx="1980.2" cy="245.3" r="5.5"/><circle cx="1987.4" cy="243.5" r="5.5"/><circle cx="1994.6" cy="246.0" r="5.5"/><circle cx="2001.8" cy="245.9" r="5.5"/><circle cx="2009.0" cy="247.1" r="5.5"/><circle cx="2016.2" cy="243.7" r="5.5"/><circle cx="2023.5" cy="244.0" r="5.5"/><circle cx="2030.7" cy="246.5" r="5.5"/><circle cx="2037.9" cy="245.5" r="5.5"/><circle cx="2045.1" cy="245.1" r="5.5"/><circle cx="2052.3" cy="246.6" r="5.5"/><circle cx="2059.5" cy="245.1" r="5.5"/><circle cx="2066.8" cy="245.6" r="5.5"/><circle cx="2074.0" cy="245.0" r="5.5"/><circle cx="2081.2" cy="244.5" r="5.5"/><circle cx="2088.4" cy="245.4" r="5.5"/><circle cx="2095.6" cy="244.3" r="5.5"/><circle cx="2102.8" cy="248.0" r="5.5"/></g>
<path d="M1222.7 261.1 L1224.7 260.2 L1226.7 259.3 L1228.7 258.4 L1230.7 257.5 L1232.7 256.6 L1234.7 255.7 L1236.7 254.8 L1238.7 253.9 L1240.7 253.0 L1242.7 252.1 L1244.7 251.2 L1246.7 250.3 L1248.7 249.4 L1250.7 248.5 L1252.7 247.6 L1254.7 246.7 L1256.7 245.8 L1258.7 244.9 L1260.7 244.0 L1262.7 243.1 L1264.7 242.3 L1266.7 241.4 L1268.7 240.5 L1270.7 239.6 L1272.7 238.8 L1274.7 237.9 L1276.7 237.0 L1278.7 236.2 L1280.7 235.3 L1282.7 234.5 L1284.7 233.6 L1286.7 232.8 L1288.7 231.9 L1290.7 231.1 L1292.7 230.3 L1294.7 229.5 L1296.7 228.6 L1298.7 227.8 L1300.7 227.0 L1302.7 226.2 L1304.7 225.4 L1306.7 224.6 L1308.7 223.8 L1310.7 223.1 L1312.7 222.3 L1314.7 221.5 L1316.7 220.8 L1318.7 220.0 L1320.7 219.2 L1322.7 218.5 L1324.7 217.8 L1326.7 217.0 L1328.7 216.3 L1330.7 215.6 L1332.7 214.9 L1334.7 214.2 L1336.7 213.5 L1338.7 212.8 L1340.7 212.1 L1342.7 211.5 L1344.7 210.8 L1346.7 210.1 L1348.7 209.5 L1350.7 208.8 L1352.7 208.2 L1354.7 207.6 L1356.7 207.0 L1358.7 206.3 L1360.7 205.7 L1362.7 205.1 L1364.7 204.5 L1366.7 203.8 L1368.7 203.1 L1370.7 202.5 L1372.7 201.8 L1374.7 201.0 L1376.7 200.3 L1378.7 199.5 L1380.7 198.7 L1382.7 197.9 L1384.7 197.0 L1386.7 196.1 L1388.7 195.2 L1390.7 194.2 L1392.7 193.1 L1394.7 192.0 L1396.7 190.9 L1398.7 189.8 L1400.7 188.7 L1402.7 187.7 L1404.7 186.6 L1406.7 185.7 L1408.7 184.8 L1410.7 184.1 L1412.7 183.4 L1414.7 182.9 L1416.7 182.5 L1418.7 182.3 L1420.7 182.2 L1422.7 182.3 L1424.7 182.5 L1426.7 182.9 L1428.7 183.4 L1430.7 184.2 L1432.7 185.1 L1434.7 186.2 L1436.7 187.4 L1438.7 188.8 L1440.7 190.3 L1442.7 191.9 L1444.7 193.6 L1446.7 195.4 L1448.7 197.2 L1450.7 199.1 L1452.7 201.1 L1454.7 203.1 L1456.7 205.1 L1458.7 207.1 L1460.7 209.0 L1462.7 211.0 L1464.7 213.0 L1466.7 214.8 L1468.7 216.7 L1470.7 218.4 L1472.7 220.1 L1474.7 221.7 L1476.7 223.2 L1478.7 224.7 L1480.7 226.1 L1482.7 227.4 L1484.7 228.8 L1486.7 230.1 L1488.7 231.5 L1490.7 232.9 L1492.7 234.3 L1494.7 235.8 L1496.7 237.4 L1498.7 239.0 L1500.7 240.8 L1502.7 242.8 L1504.7 244.8 L1506.7 247.0 L1508.7 249.4 L1510.7 251.9 L1512.7 254.6 L1514.7 257.4 L1516.7 260.3 L1518.7 263.4 L1520.7 266.6 L1522.7 269.9 L1524.7 273.4 L1526.7 276.9 L1528.7 280.6 L1530.7 284.4 L1532.7 288.3 L1534.7 292.3 L1536.7 296.4 L1538.7 300.6 L1540.7 304.9 L1542.7 309.3 L1544.7 313.7 L1546.7 318.2 L1548.7 322.8 L1550.7 327.4 L1552.7 332.0 L1554.7 336.7 L1556.7 341.3 L1558.7 346.0 L1560.7 350.6 L1562.7 355.2 L1564.7 359.7 L1566.7 364.2 L1568.7 368.5 L1570.7 372.7 L1572.7 376.6 L1574.7 380.2 L1576.7 383.4 L1578.7 386.1 L1580.7 388.2 L1582.7 389.9 L1584.7 391.0 L1586.7 391.7 L1588.7 392.0 L1590.7 391.8 L1592.7 391.2 L1594.7 390.3 L1596.7 388.9 L1598.7 387.2 L1600.7 385.1 L1602.7 382.7 L1604.7 379.8 L1606.7 376.6 L1608.7 373.0 L1610.7 369.1 L1612.7 364.8 L1614.7 360.3 L1616.7 355.4 L1618.7 350.2 L1620.7 344.8 L1622.7 339.2 L1624.7 333.4 L1626.7 327.4 L1628.7 321.3 L1630.7 315.1 L1632.7 308.8 L1634.7 302.6 L1636.7 296.4 L1638.7 290.2 L1640.7 284.3 L1642.7 278.8 L1644.7 273.7 L1646.7 269.2 L1648.7 265.2 L1650.7 261.6 L1652.7 258.2 L1654.7 254.9 L1656.7 251.6 L1658.7 248.2 L1660.7 245.0 L1662.7 241.8 L1664.7 238.7 L1666.7 235.7 L1668.7 232.9 L1670.7 230.2 L1672.7 227.8 L1674.7 225.5 L1676.7 223.4 L1678.7 221.5 L1680.7 219.8 L1682.7 218.2 L1684.7 216.8 L1686.7 215.5 L1688.7 214.5 L1690.7 213.5 L1692.7 212.7 L1694.7 212.0 L1696.7 211.4 L1698.7 211.0 L1700.7 210.7 L1702.7 210.4 L1704.7 210.3 L1706.7 210.2 L1708.7 210.3 L1710.7 210.4 L1712.7 210.6 L1714.7 210.8 L1716.7 211.2 L1718.7 211.5 L1720.7 211.9 L1722.7 212.4 L1724.7 212.9 L1726.7 213.4 L1728.7 213.9 L1730.7 214.5 L1732.7 215.2 L1734.7 215.8 L1736.7 216.5 L1738.7 217.2 L1740.7 217.9 L1742.7 218.6 L1744.7 219.4 L1746.7 220.1 L1748.7 220.9 L1750.7 221.7 L1752.7 222.5 L1754.7 223.3 L1756.7 224.0 L1758.7 224.8 L1760.7 225.6 L1762.7 226.4 L1764.7 227.1 L1766.7 227.8 L1768.7 228.6 L1770.7 229.3 L1772.7 230.0 L1774.7 230.6 L1776.7 231.3 L1778.7 231.9 L1780.7 232.5 L1782.7 233.0 L1784.7 233.6 L1786.7 234.1 L1788.7 234.6 L1790.7 235.1 L1792.7 235.5 L1794.7 236.0 L1796.7 236.4 L1798.7 236.8 L1800.7 237.2 L1802.7 237.5 L1804.7 237.9 L1806.7 238.2 L1808.7 238.5 L1810.7 238.8 L1812.7 239.1 L1814.7 239.4 L1816.7 239.7 L1818.7 239.9 L1820.7 240.1 L1822.7 240.3 L1824.7 240.6 L1826.7 240.7 L1828.7 240.9 L1830.7 241.1 L1832.7 241.3 L1834.7 241.4 L1836.7 241.5 L1838.7 241.7 L1840.7 241.8 L1842.7 241.9 L1844.7 242.0 L1846.7 242.1 L1848.7 242.2 L1850.7 242.3 L1852.7 242.4 L1854.7 242.5 L1856.7 242.6 L1858.7 242.6 L1860.7 242.7 L1862.7 242.8 L1864.7 242.8 L1866.7 242.9 L1868.7 243.0 L1870.7 243.0 L1872.7 243.1 L1874.7 243.1 L1876.7 243.2 L1878.7 243.3 L1880.7 243.3 L1882.7 243.4 L1884.7 243.4 L1886.7 243.5 L1888.7 243.6 L1890.7 243.6 L1892.7 243.7 L1894.7 243.7 L1896.7 243.8 L1898.7 243.9 L1900.7 243.9 L1902.7 244.0 L1904.7 244.1 L1906.7 244.1 L1908.7 244.2 L1910.7 244.3 L1912.7 244.3 L1914.7 244.4 L1916.7 244.4 L1918.7 244.5 L1920.7 244.6 L1922.7 244.6 L1924.7 244.7 L1926.7 244.8 L1928.7 244.8 L1930.7 244.9 L1932.7 244.9 L1934.7 245.0 L1936.7 245.1 L1938.7 245.1 L1940.7 245.2 L1942.7 245.2 L1944.7 245.3 L1946.7 245.3 L1948.7 245.4 L1950.7 245.5 L1952.7 245.5 L1954.7 245.6 L1956.7 245.6 L1958.7 245.7 L1960.7 245.7 L1962.7 245.8 L1964.7 245.8 L1966.7 245.9 L1968.7 245.9 L1970.7 246.0 L1972.7 246.0 L1974.7 246.1 L1976.7 246.1 L1978.7 246.1 L1980.7 246.2 L1982.7 246.2 L1984.7 246.3 L1986.7 246.3 L1988.7 246.3 L1990.7 246.4 L1992.7 246.4 L1994.7 246.4 L1996.7 246.5 L1998.7 246.5 L2000.7 246.5 L2002.7 246.6 L2004.7 246.6 L2006.7 246.6 L2008.7 246.6 L2010.7 246.6 L2012.7 246.7 L2014.7 246.7 L2016.7 246.7 L2018.7 246.7 L2020.7 246.7 L2022.7 246.7 L2024.7 246.7 L2026.7 246.7 L2028.7 246.7 L2030.7 246.7 L2032.7 246.7 L2034.7 246.7 L2036.7 246.7 L2038.7 246.7 L2040.7 246.7 L2042.7 246.7 L2044.7 246.7 L2046.7 246.7 L2048.7 246.6 L2050.7 246.6 L2052.7 246.6 L2054.7 246.6 L2056.7 246.5 L2058.7 246.5 L2060.7 246.5 L2062.7 246.4 L2064.7 246.4 L2066.7 246.4 L2068.7 246.3 L2070.7 246.3 L2072.7 246.2 L2074.7 246.2 L2076.7 246.1 L2078.7 246.1 L2080.7 246.0 L2082.7 245.9 L2084.7 245.9 L2086.7 245.8 L2088.7 245.7 L2090.7 245.7 L2092.7 245.6 L2094.7 245.5 L2096.7 245.4 L2098.7 245.3 L2100.7 245.3 L2102.7 245.2 L2104.7 245.1 L2106.0 245.0" fill="none" stroke="#6a60ee" stroke-width="5.5" stroke-linejoin="round" opacity="0.85"/>
<path d="M1222.7 260.1 L1224.7 259.4 L1226.7 258.6 L1228.7 257.8 L1230.7 257.0 L1232.7 256.2 L1234.7 255.3 L1236.7 254.5 L1238.7 253.5 L1240.7 252.6 L1242.7 251.6 L1244.7 250.7 L1246.7 249.6 L1248.7 248.6 L1250.7 247.5 L1252.7 246.4 L1254.7 245.3 L1256.7 244.2 L1258.7 243.0 L1260.7 241.8 L1262.7 240.6 L1264.7 239.4 L1266.7 238.1 L1268.7 236.8 L1270.7 235.5 L1272.7 234.2 L1274.7 232.8 L1276.7 231.4 L1278.7 230.0 L1280.7 228.6 L1282.7 227.2 L1284.7 225.7 L1286.7 224.2 L1288.7 222.7 L1290.7 221.2 L1292.7 219.6 L1294.7 218.0 L1296.7 216.4 L1298.7 214.8 L1300.7 213.2 L1302.7 211.5 L1304.7 209.9 L1306.7 208.2 L1308.7 206.4 L1310.7 204.7 L1312.7 203.0 L1314.7 201.2 L1316.7 199.4 L1318.7 197.7 L1320.7 195.9 L1322.7 194.1 L1324.7 192.3 L1326.7 190.5 L1328.7 188.7 L1330.7 186.9 L1332.7 185.1 L1334.7 183.3 L1336.7 181.6 L1338.7 179.8 L1340.7 178.0 L1342.7 176.3 L1344.7 174.6 L1346.7 172.9 L1348.7 171.2 L1350.7 169.5 L1352.7 167.9 L1354.7 166.2 L1356.7 164.7 L1358.7 163.1 L1360.7 161.5 L1362.7 160.0 L1364.7 158.4 L1366.7 156.9 L1368.7 155.4 L1370.7 153.9 L1372.7 152.3 L1374.7 150.8 L1376.7 149.2 L1378.7 147.7 L1380.7 146.1 L1382.7 144.5 L1384.7 142.9 L1386.7 141.2 L1388.7 139.5 L1390.7 137.8 L1392.7 136.2 L1394.7 134.6 L1396.7 133.0 L1398.7 131.6 L1400.7 130.2 L1402.7 129.0 L1404.7 127.9 L1406.7 127.0 L1408.7 126.2 L1410.7 125.5 L1412.7 124.9 L1414.7 124.5 L1416.7 124.3 L1418.7 124.1 L1420.7 124.1 L1422.7 124.3 L1424.7 124.5 L1426.7 125.0 L1428.7 125.5 L1430.7 126.2 L1432.7 127.0 L1434.7 128.0 L1436.7 129.1 L1438.7 130.3 L1440.7 131.6 L1442.7 133.0 L1444.7 134.6 L1446.7 136.2 L1448.7 137.9 L1450.7 139.7 L1452.7 141.5 L1454.7 143.4 L1456.7 145.4 L1458.7 147.4 L1460.7 149.5 L1462.7 151.6 L1464.7 153.7 L1466.7 155.8 L1468.7 158.0 L1470.7 160.2 L1472.7 162.5 L1474.7 164.8 L1476.7 167.1 L1478.7 169.5 L1480.7 171.9 L1482.7 174.3 L1484.7 176.8 L1486.7 179.4 L1488.7 181.9 L1490.7 184.6 L1492.7 187.2 L1494.7 190.0 L1496.7 192.7 L1498.7 195.6 L1500.7 198.5 L1502.7 201.4 L1504.7 204.6 L1506.7 207.8 L1508.7 211.3 L1510.7 214.9 L1512.7 218.8 L1514.7 222.9 L1516.7 227.3 L1518.7 232.0 L1520.7 237.0 L1522.7 242.2 L1524.7 247.6 L1526.7 252.8 L1528.7 258.1 L1530.7 263.5 L1532.7 269.1 L1534.7 275.1 L1536.7 281.6 L1538.7 288.3 L1540.7 295.2 L1542.7 302.0 L1544.7 308.6 L1546.7 315.0 L1548.7 321.2 L1550.7 327.3 L1552.7 333.4 L1554.7 339.6 L1556.7 345.9 L1558.7 352.2 L1560.7 358.6 L1562.7 365.1 L1564.7 371.7 L1566.7 378.5 L1568.7 385.3 L1570.7 391.8 L1572.7 397.8 L1574.7 403.1 L1576.7 407.6 L1578.7 411.6 L1580.7 415.1 L1582.7 418.1 L1584.7 420.8 L1586.7 423.0 L1588.7 424.8 L1590.7 426.2 L1592.7 427.1 L1594.7 427.7 L1596.7 427.7 L1598.7 427.3 L1600.7 426.5 L1602.7 425.2 L1604.7 423.4 L1606.7 421.1 L1608.7 418.4 L1610.7 415.2 L1612.7 411.6 L1614.7 407.7 L1616.7 403.5 L1618.7 399.1 L1620.7 394.4 L1622.7 389.6 L1624.7 384.7 L1626.7 379.8 L1628.7 374.9 L1630.7 370.0 L1632.7 365.1 L1634.7 360.3 L1636.7 355.6 L1638.7 351.0 L1640.7 346.5 L1642.7 342.1 L1644.7 337.9 L1646.7 333.7 L1648.7 329.7 L1650.7 325.8 L1652.7 322.0 L1654.7 318.3 L1656.7 314.8 L1658.7 311.3 L1660.7 308.0 L1662.7 304.7 L1664.7 301.6 L1666.7 298.6 L1668.7 295.7 L1670.7 292.9 L1672.7 290.3 L1674.7 287.7 L1676.7 285.3 L1678.7 282.9 L1680.7 280.7 L1682.7 278.5 L1684.7 276.5 L1686.7 274.5 L1688.7 272.7 L1690.7 270.9 L1692.7 269.3 L1694.7 267.7 L1696.7 266.2 L1698.7 264.7 L1700.7 263.4 L1702.7 262.1 L1704.7 260.9 L1706.7 259.8 L1708.7 258.7 L1710.7 257.7 L1712.7 256.8 L1714.7 255.9 L1716.7 255.1 L1718.7 254.3 L1720.7 253.6 L1722.7 252.9 L1724.7 252.3 L1726.7 251.7 L1728.7 251.2 L1730.7 250.7 L1732.7 250.2 L1734.7 249.8 L1736.7 249.4 L1738.7 249.1 L1740.7 248.8 L1742.7 248.5 L1744.7 248.2 L1746.7 248.0 L1748.7 247.8 L1750.7 247.6 L1752.7 247.4 L1754.7 247.3 L1756.7 247.2 L1758.7 247.1 L1760.7 247.0 L1762.7 246.9 L1764.7 246.8 L1766.7 246.8 L1768.7 246.7 L1770.7 246.7 L1772.7 246.7 L1774.7 246.6 L1776.7 246.6 L1778.7 246.5 L1780.7 246.5 L1782.7 246.5 L1784.7 246.4 L1786.7 246.4 L1788.7 246.4 L1790.7 246.3 L1792.7 246.3 L1794.7 246.3 L1796.7 246.3 L1798.7 246.2 L1800.7 246.2 L1802.7 246.2 L1804.7 246.2 L1806.7 246.1 L1808.7 246.1 L1810.7 246.1 L1812.7 246.1 L1814.7 246.1 L1816.7 246.0 L1818.7 246.0 L1820.7 246.0 L1822.7 246.0 L1824.7 246.0 L1826.7 246.0 L1828.7 245.9 L1830.7 245.9 L1832.7 245.9 L1834.7 245.9 L1836.7 245.9 L1838.7 245.9 L1840.7 245.9 L1842.7 245.9 L1844.7 245.9 L1846.7 245.9 L1848.7 245.8 L1850.7 245.8 L1852.7 245.8 L1854.7 245.8 L1856.7 245.8 L1858.7 245.8 L1860.7 245.8 L1862.7 245.8 L1864.7 245.8 L1866.7 245.8 L1868.7 245.8 L1870.7 245.8 L1872.7 245.8 L1874.7 245.8 L1876.7 245.8 L1878.7 245.8 L1880.7 245.8 L1882.7 245.8 L1884.7 245.8 L1886.7 245.8 L1888.7 245.8 L1890.7 245.8 L1892.7 245.8 L1894.7 245.8 L1896.7 245.8 L1898.7 245.8 L1900.7 245.9 L1902.7 245.9 L1904.7 245.9 L1906.7 245.9 L1908.7 245.9 L1910.7 245.9 L1912.7 245.9 L1914.7 245.9 L1916.7 245.9 L1918.7 245.9 L1920.7 245.9 L1922.7 245.9 L1924.7 245.9 L1926.7 245.9 L1928.7 245.9 L1930.7 245.9 L1932.7 246.0 L1934.7 246.0 L1936.7 246.0 L1938.7 246.0 L1940.7 246.0 L1942.7 246.0 L1944.7 246.0 L1946.7 246.0 L1948.7 246.0 L1950.7 246.0 L1952.7 246.0 L1954.7 246.0 L1956.7 246.0 L1958.7 246.0 L1960.7 246.0 L1962.7 246.0 L1964.7 246.0 L1966.7 246.1 L1968.7 246.1 L1970.7 246.1 L1972.7 246.1 L1974.7 246.1 L1976.7 246.1 L1978.7 246.1 L1980.7 246.1 L1982.7 246.1 L1984.7 246.1 L1986.7 246.1 L1988.7 246.1 L1990.7 246.1 L1992.7 246.1 L1994.7 246.1 L1996.7 246.1 L1998.7 246.1 L2000.7 246.1 L2002.7 246.1 L2004.7 246.1 L2006.7 246.1 L2008.7 246.1 L2010.7 246.1 L2012.7 246.1 L2014.7 246.1 L2016.7 246.1 L2018.7 246.0 L2020.7 246.0 L2022.7 246.0 L2024.7 246.0 L2026.7 246.0 L2028.7 246.0 L2030.7 246.0 L2032.7 246.0 L2034.7 246.0 L2036.7 246.0 L2038.7 245.9 L2040.7 245.9 L2042.7 245.9 L2044.7 245.9 L2046.7 245.9 L2048.7 245.9 L2050.7 245.8 L2052.7 245.8 L2054.7 245.8 L2056.7 245.8 L2058.7 245.8 L2060.7 245.7 L2062.7 245.7 L2064.7 245.7 L2066.7 245.7 L2068.7 245.6 L2070.7 245.6 L2072.7 245.6 L2074.7 245.5 L2076.7 245.5 L2078.7 245.5 L2080.7 245.4 L2082.7 245.4 L2084.7 245.4 L2086.7 245.3 L2088.7 245.3 L2090.7 245.3 L2092.7 245.2 L2094.7 245.2 L2096.7 245.1 L2098.7 245.1 L2100.7 245.1 L2102.7 245.0 L2104.7 245.0 L2106.0 244.9" fill="none" stroke="#141414" stroke-width="4" stroke-linejoin="round"/>
<path d="M1222.7 242.9 L1224.7 242.8 L1226.7 242.7 L1228.7 242.6 L1230.7 242.6 L1232.7 242.5 L1234.7 242.5 L1236.7 242.6 L1238.7 242.6 L1240.7 242.7 L1242.7 242.8 L1244.7 242.9 L1246.7 243.1 L1248.7 243.2 L1250.7 243.4 L1252.7 243.6 L1254.7 243.9 L1256.7 244.1 L1258.7 244.4 L1260.7 244.7 L1262.7 245.0 L1264.7 245.3 L1266.7 245.7 L1268.7 246.1 L1270.7 246.5 L1272.7 246.9 L1274.7 247.4 L1276.7 247.8 L1278.7 248.3 L1280.7 248.8 L1282.7 249.3 L1284.7 249.9 L1286.7 250.4 L1288.7 251.0 L1290.7 251.6 L1292.7 252.3 L1294.7 252.9 L1296.7 253.6 L1298.7 254.2 L1300.7 254.9 L1302.7 255.6 L1304.7 256.4 L1306.7 257.1 L1308.7 257.9 L1310.7 258.7 L1312.7 259.5 L1314.7 260.3 L1316.7 261.1 L1318.7 262.0 L1320.7 262.9 L1322.7 263.7 L1324.7 264.6 L1326.7 265.6 L1328.7 266.5 L1330.7 267.4 L1332.7 268.4 L1334.7 269.3 L1336.7 270.3 L1338.7 271.3 L1340.7 272.3 L1342.7 273.3 L1344.7 274.3 L1346.7 275.2 L1348.7 276.2 L1350.7 277.2 L1352.7 278.2 L1354.7 279.2 L1356.7 280.2 L1358.7 281.2 L1360.7 282.1 L1362.7 283.1 L1364.7 284.0 L1366.7 285.0 L1368.7 285.9 L1370.7 286.8 L1372.7 287.7 L1374.7 288.6 L1376.7 289.4 L1378.7 290.3 L1380.7 291.1 L1382.7 291.9 L1384.7 292.7 L1386.7 293.4 L1388.7 294.2 L1390.7 294.9 L1392.7 295.5 L1394.7 296.2 L1396.7 296.8 L1398.7 297.4 L1400.7 297.9 L1402.7 298.4 L1404.7 298.9 L1406.7 299.4 L1408.7 299.8 L1410.7 300.1 L1412.7 300.4 L1414.7 300.7 L1416.7 301.0 L1418.7 301.2 L1420.7 301.3 L1422.7 301.4 L1424.7 301.5 L1426.7 301.5 L1428.7 301.5 L1430.7 301.4 L1432.7 301.3 L1434.7 301.1 L1436.7 300.8 L1438.7 300.6 L1440.7 300.2 L1442.7 299.9 L1444.7 299.4 L1446.7 298.9 L1448.7 298.4 L1450.7 297.8 L1452.7 297.2 L1454.7 296.5 L1456.7 295.7 L1458.7 294.9 L1460.7 294.0 L1462.7 293.1 L1464.7 292.2 L1466.7 291.2 L1468.7 290.1 L1470.7 289.1 L1472.7 288.0 L1474.7 286.9 L1476.7 285.7 L1478.7 284.5 L1480.7 283.4 L1482.7 282.2 L1484.7 281.0 L1486.7 279.7 L1488.7 278.5 L1490.7 277.3 L1492.7 276.1 L1494.7 274.8 L1496.7 273.6 L1498.7 272.4 L1500.7 271.2 L1502.7 270.1 L1504.7 268.9 L1506.7 267.7 L1508.7 266.6 L1510.7 265.4 L1512.7 264.3 L1514.7 263.1 L1516.7 262.0 L1518.7 260.8 L1520.7 259.6 L1522.7 258.5 L1524.7 257.3 L1526.7 256.1 L1528.7 254.9 L1530.7 253.6 L1532.7 252.4 L1534.7 251.1 L1536.7 249.9 L1538.7 248.6 L1540.7 247.2 L1542.7 245.9 L1544.7 244.5 L1546.7 243.1 L1548.7 241.6 L1550.7 240.2 L1552.7 238.7 L1554.7 237.2 L1556.7 235.6 L1558.7 234.1 L1560.7 232.5 L1562.7 230.9 L1564.7 229.3 L1566.7 227.7 L1568.7 226.1 L1570.7 224.5 L1572.7 222.8 L1574.7 221.2 L1576.7 219.6 L1578.7 217.9 L1580.7 216.3 L1582.7 214.7 L1584.7 213.1 L1586.7 211.5 L1588.7 209.9 L1590.7 208.4 L1592.7 206.8 L1594.7 205.3 L1596.7 203.8 L1598.7 202.3 L1600.7 200.8 L1602.7 199.4 L1604.7 198.0 L1606.7 196.6 L1608.7 195.2 L1610.7 193.9 L1612.7 192.6 L1614.7 191.3 L1616.7 190.1 L1618.7 188.9 L1620.7 187.8 L1622.7 186.7 L1624.7 185.6 L1626.7 184.6 L1628.7 183.6 L1630.7 182.7 L1632.7 181.8 L1634.7 180.9 L1636.7 180.2 L1638.7 179.4 L1640.7 178.8 L1642.7 178.1 L1644.7 177.6 L1646.7 177.1 L1648.7 176.7 L1650.7 176.3 L1652.7 176.0 L1654.7 175.7 L1656.7 175.6 L1658.7 175.4 L1660.7 175.4 L1662.7 175.5 L1664.7 175.6 L1666.7 175.7 L1668.7 176.0 L1670.7 176.3 L1672.7 176.7 L1674.7 177.2 L1676.7 177.7 L1678.7 178.2 L1680.7 178.9 L1682.7 179.5 L1684.7 180.3 L1686.7 181.1 L1688.7 181.9 L1690.7 182.7 L1692.7 183.7 L1694.7 184.6 L1696.7 185.6 L1698.7 186.6 L1700.7 187.7 L1702.7 188.7 L1704.7 189.8 L1706.7 191.0 L1708.7 192.1 L1710.7 193.3 L1712.7 194.5 L1714.7 195.7 L1716.7 196.9 L1718.7 198.1 L1720.7 199.3 L1722.7 200.5 L1724.7 201.8 L1726.7 203.0 L1728.7 204.2 L1730.7 205.4 L1732.7 206.7 L1734.7 207.9 L1736.7 209.0 L1738.7 210.2 L1740.7 211.4 L1742.7 212.5 L1744.7 213.6 L1746.7 214.7 L1748.7 215.8 L1750.7 216.9 L1752.7 217.9 L1754.7 218.9 L1756.7 219.9 L1758.7 220.8 L1760.7 221.8 L1762.7 222.7 L1764.7 223.5 L1766.7 224.4 L1768.7 225.2 L1770.7 225.9 L1772.7 226.7 L1774.7 227.3 L1776.7 228.0 L1778.7 228.6 L1780.7 229.2 L1782.7 229.8 L1784.7 230.3 L1786.7 230.8 L1788.7 231.3 L1790.7 231.7 L1792.7 232.1 L1794.7 232.5 L1796.7 232.9 L1798.7 233.2 L1800.7 233.5 L1802.7 233.8 L1804.7 234.1 L1806.7 234.4 L1808.7 234.6 L1810.7 234.8 L1812.7 235.1 L1814.7 235.3 L1816.7 235.4 L1818.7 235.6 L1820.7 235.8 L1822.7 236.0 L1824.7 236.1 L1826.7 236.3 L1828.7 236.4 L1830.7 236.6 L1832.7 236.7 L1834.7 236.9 L1836.7 237.0 L1838.7 237.2 L1840.7 237.3 L1842.7 237.4 L1844.7 237.5 L1846.7 237.7 L1848.7 237.8 L1850.7 237.9 L1852.7 238.0 L1854.7 238.1 L1856.7 238.2 L1858.7 238.3 L1860.7 238.4 L1862.7 238.5 L1864.7 238.6 L1866.7 238.7 L1868.7 238.8 L1870.7 238.9 L1872.7 239.0 L1874.7 239.0 L1876.7 239.1 L1878.7 239.2 L1880.7 239.3 L1882.7 239.3 L1884.7 239.4 L1886.7 239.5 L1888.7 239.5 L1890.7 239.6 L1892.7 239.7 L1894.7 239.7 L1896.7 239.8 L1898.7 239.8 L1900.7 239.9 L1902.7 239.9 L1904.7 240.0 L1906.7 240.0 L1908.7 240.1 L1910.7 240.1 L1912.7 240.1 L1914.7 240.2 L1916.7 240.2 L1918.7 240.2 L1920.7 240.3 L1922.7 240.3 L1924.7 240.3 L1926.7 240.4 L1928.7 240.4 L1930.7 240.4 L1932.7 240.4 L1934.7 240.5 L1936.7 240.5 L1938.7 240.5 L1940.7 240.5 L1942.7 240.5 L1944.7 240.5 L1946.7 240.6 L1948.7 240.6 L1950.7 240.6 L1952.7 240.6 L1954.7 240.6 L1956.7 240.6 L1958.7 240.6 L1960.7 240.6 L1962.7 240.6 L1964.7 240.6 L1966.7 240.6 L1968.7 240.6 L1970.7 240.7 L1972.7 240.7 L1974.7 240.7 L1976.7 240.7 L1978.7 240.7 L1980.7 240.7 L1982.7 240.7 L1984.7 240.7 L1986.7 240.7 L1988.7 240.7 L1990.7 240.7 L1992.7 240.7 L1994.7 240.7 L1996.7 240.7 L1998.7 240.7 L2000.7 240.7 L2002.7 240.7 L2004.7 240.7 L2006.7 240.7 L2008.7 240.7 L2010.7 240.7 L2012.7 240.7 L2014.7 240.7 L2016.7 240.7 L2018.7 240.7 L2020.7 240.7 L2022.7 240.7 L2024.7 240.7 L2026.7 240.7 L2028.7 240.7 L2030.7 240.7 L2032.7 240.7 L2034.7 240.7 L2036.7 240.7 L2038.7 240.7 L2040.7 240.7 L2042.7 240.8 L2044.7 240.8 L2046.7 240.8 L2048.7 240.8 L2050.7 240.8 L2052.7 240.8 L2054.7 240.8 L2056.7 240.9 L2058.7 240.9 L2060.7 240.9 L2062.7 240.9 L2064.7 240.9 L2066.7 241.0 L2068.7 241.0 L2070.7 241.0 L2072.7 241.0 L2074.7 241.1 L2076.7 241.1 L2078.7 241.1 L2080.7 241.2 L2082.7 241.2 L2084.7 241.3 L2086.7 241.3 L2088.7 241.3 L2090.7 241.4 L2092.7 241.4 L2094.7 241.5 L2096.7 241.5 L2098.7 241.6 L2100.7 241.6 L2102.7 241.7 L2104.7 241.8 L2106.0 241.8" fill="none" stroke="#e3163f" stroke-width="4" stroke-linejoin="round"/>
</g>
<g clip-path="url(#d139893424573856)" fill="#1a0ff0"><clipPath id="d139893424573856"><rect x="123.5" y="514.8" width="902.3" height="222.60000000000002"/></clipPath><circle cx="141.6" cy="578.0" r="4.6"/><circle cx="148.8" cy="584.5" r="4.6"/><circle cx="156.0" cy="591.3" r="4.6"/><circle cx="163.2" cy="598.0" r="4.6"/><circle cx="170.5" cy="604.5" r="4.6"/><circle cx="177.7" cy="610.0" r="4.6"/><circle cx="184.9" cy="613.9" r="4.6"/><circle cx="192.1" cy="616.8" r="4.6"/><circle cx="199.3" cy="618.5" r="4.6"/><circle cx="206.5" cy="619.4" r="4.6"/><circle cx="213.8" cy="619.7" r="4.6"/><circle cx="221.0" cy="619.9" r="4.6"/><circle cx="228.2" cy="619.4" r="4.6"/><circle cx="235.4" cy="618.7" r="4.6"/><circle cx="242.6" cy="617.3" r="4.6"/><circle cx="249.8" cy="615.6" r="4.6"/><circle cx="257.0" cy="613.4" r="4.6"/><circle cx="264.3" cy="610.5" r="4.6"/><circle cx="271.5" cy="605.4" r="4.6"/><circle cx="278.7" cy="600.6" r="4.6"/><circle cx="285.9" cy="595.4" r="4.6"/><circle cx="293.1" cy="590.5" r="4.6"/><circle cx="300.3" cy="586.5" r="4.6"/><circle cx="307.5" cy="584.3" r="4.6"/><circle cx="314.8" cy="585.3" r="4.6"/><circle cx="322.0" cy="590.5" r="4.6"/><circle cx="329.2" cy="598.5" r="4.6"/><circle cx="336.4" cy="610.2" r="4.6"/><circle cx="343.6" cy="625.0" r="4.6"/><circle cx="350.8" cy="641.3" r="4.6"/><circle cx="358.0" cy="656.7" r="4.6"/><circle cx="365.3" cy="670.4" r="4.6"/><circle cx="372.5" cy="677.4" r="4.6"/><circle cx="379.7" cy="678.5" r="4.6"/><circle cx="386.9" cy="677.3" r="4.6"/><circle cx="394.1" cy="675.7" r="4.6"/><circle cx="401.3" cy="675.7" r="4.6"/><circle cx="408.6" cy="675.5" r="4.6"/><circle cx="415.8" cy="675.5" r="4.6"/><circle cx="423.0" cy="677.5" r="4.6"/><circle cx="430.2" cy="673.1" r="4.6"/><circle cx="437.4" cy="670.0" r="4.6"/><circle cx="444.6" cy="666.3" r="4.6"/><circle cx="451.8" cy="659.2" r="4.6"/><circle cx="459.1" cy="652.6" r="4.6"/><circle cx="466.3" cy="645.4" r="4.6"/><circle cx="473.5" cy="635.0" r="4.6"/><circle cx="480.7" cy="620.5" r="4.6"/><circle cx="487.9" cy="606.2" r="4.6"/><circle cx="495.1" cy="588.6" r="4.6"/><circle cx="502.4" cy="571.7" r="4.6"/><circle cx="509.6" cy="555.6" r="4.6"/><circle cx="516.8" cy="543.1" r="4.6"/><circle cx="524.0" cy="536.3" r="4.6"/><circle cx="531.2" cy="535.4" r="4.6"/><circle cx="538.4" cy="540.7" r="4.6"/><circle cx="545.6" cy="549.7" r="4.6"/><circle cx="552.9" cy="562.2" r="4.6"/><circle cx="560.1" cy="576.8" r="4.6"/><circle cx="567.3" cy="593.0" r="4.6"/><circle cx="574.5" cy="608.6" r="4.6"/><circle cx="581.7" cy="623.8" r="4.6"/><circle cx="588.9" cy="637.7" r="4.6"/><circle cx="596.1" cy="647.6" r="4.6"/><circle cx="603.4" cy="655.9" r="4.6"/><circle cx="610.6" cy="661.2" r="4.6"/><circle cx="617.8" cy="664.5" r="4.6"/><circle cx="625.0" cy="666.7" r="4.6"/><circle cx="632.2" cy="668.3" r="4.6"/><circle cx="639.4" cy="669.2" r="4.6"/><circle cx="646.6" cy="671.3" r="4.6"/><circle cx="653.9" cy="672.4" r="4.6"/><circle cx="661.1" cy="673.2" r="4.6"/><circle cx="668.3" cy="672.4" r="4.6"/><circle cx="675.5" cy="669.5" r="4.6"/><circle cx="682.7" cy="665.1" r="4.6"/><circle cx="689.9" cy="659.7" r="4.6"/><circle cx="697.2" cy="653.4" r="4.6"/><circle cx="704.4" cy="646.8" r="4.6"/><circle cx="711.6" cy="640.2" r="4.6"/><circle cx="718.8" cy="634.3" r="4.6"/><circle cx="726.0" cy="628.9" r="4.6"/><circle cx="733.2" cy="624.8" r="4.6"/><circle cx="740.4" cy="621.4" r="4.6"/><circle cx="747.7" cy="618.4" r="4.6"/><circle cx="754.9" cy="616.0" r="4.6"/><circle cx="762.1" cy="613.7" r="4.6"/><circle cx="769.3" cy="612.0" r="4.6"/><circle cx="776.5" cy="610.4" r="4.6"/><circle cx="783.7" cy="609.3" r="4.6"/><circle cx="791.0" cy="608.6" r="4.6"/><circle cx="798.2" cy="608.6" r="4.6"/><circle cx="805.4" cy="609.3" r="4.6"/><circle cx="812.6" cy="610.4" r="4.6"/><circle cx="819.8" cy="612.0" r="4.6"/><circle cx="827.0" cy="614.0" r="4.6"/><circle cx="834.2" cy="616.2" r="4.6"/><circle cx="841.5" cy="618.4" r="4.6"/><circle cx="848.7" cy="621.1" r="4.6"/><circle cx="855.9" cy="623.7" r="4.6"/><circle cx="863.1" cy="626.2" r="4.6"/><circle cx="870.3" cy="628.2" r="4.6"/><circle cx="877.5" cy="630.6" r="4.6"/><circle cx="884.7" cy="633.0" r="4.6"/><circle cx="892.0" cy="635.3" r="4.6"/><circle cx="899.2" cy="637.0" r="4.6"/><circle cx="906.4" cy="637.9" r="4.6"/><circle cx="913.6" cy="638.1" r="4.6"/><circle cx="920.8" cy="637.6" r="4.6"/><circle cx="928.0" cy="636.6" r="4.6"/><circle cx="935.2" cy="635.3" r="4.6"/><circle cx="942.5" cy="634.1" r="4.6"/><circle cx="949.7" cy="632.3" r="4.6"/><circle cx="956.9" cy="630.6" r="4.6"/><circle cx="964.1" cy="628.9" r="4.6"/><circle cx="971.3" cy="627.2" r="4.6"/><circle cx="978.5" cy="625.9" r="4.6"/><circle cx="985.8" cy="624.6" r="4.6"/><circle cx="993.0" cy="623.5" r="4.6"/><circle cx="1000.2" cy="622.9" r="4.6"/><circle cx="1007.4" cy="622.1" r="4.6"/><circle cx="1014.6" cy="621.2" r="4.6"/><circle cx="1021.8" cy="620.8" r="4.6"/></g>
<g clip-path="url(#d139893424581536)" fill="#1a0ff0"><clipPath id="d139893424581536"><rect x="1204.8" y="514.9" width="901.8999999999999" height="222.60000000000002"/></clipPath><circle cx="1265.9" cy="551.4" r="4.6"/><circle cx="1273.1" cy="571.9" r="4.6"/><circle cx="1280.3" cy="566.3" r="4.6"/><circle cx="1287.5" cy="603.6" r="4.6"/><circle cx="1294.8" cy="619.9" r="4.6"/><circle cx="1302.0" cy="614.2" r="4.6"/><circle cx="1309.2" cy="631.3" r="4.6"/><circle cx="1316.4" cy="643.0" r="4.6"/><circle cx="1323.6" cy="633.2" r="4.6"/><circle cx="1330.8" cy="648.1" r="4.6"/><circle cx="1338.0" cy="644.3" r="4.6"/><circle cx="1345.3" cy="638.7" r="4.6"/><circle cx="1352.5" cy="640.7" r="4.6"/><circle cx="1359.7" cy="642.1" r="4.6"/><circle cx="1366.9" cy="640.4" r="4.6"/><circle cx="1374.1" cy="651.5" r="4.6"/><circle cx="1381.3" cy="657.5" r="4.6"/><circle cx="1388.5" cy="649.3" r="4.6"/><circle cx="1395.8" cy="652.4" r="4.6"/><circle cx="1403.0" cy="621.9" r="4.6"/><circle cx="1410.2" cy="625.8" r="4.6"/><circle cx="1417.4" cy="621.2" r="4.6"/><circle cx="1424.6" cy="597.1" r="4.6"/><circle cx="1431.8" cy="604.4" r="4.6"/><circle cx="1439.0" cy="594.7" r="4.6"/><circle cx="1446.3" cy="595.9" r="4.6"/><circle cx="1453.5" cy="599.8" r="4.6"/><circle cx="1460.7" cy="605.6" r="4.6"/><circle cx="1467.9" cy="634.9" r="4.6"/><circle cx="1475.1" cy="635.2" r="4.6"/><circle cx="1482.3" cy="645.2" r="4.6"/><circle cx="1489.6" cy="645.2" r="4.6"/><circle cx="1496.8" cy="636.1" r="4.6"/><circle cx="1504.0" cy="617.5" r="4.6"/><circle cx="1511.2" cy="620.0" r="4.6"/><circle cx="1518.4" cy="615.1" r="4.6"/><circle cx="1525.6" cy="613.0" r="4.6"/><circle cx="1532.8" cy="605.3" r="4.6"/><circle cx="1540.1" cy="603.8" r="4.6"/><circle cx="1547.3" cy="623.3" r="4.6"/><circle cx="1554.5" cy="659.1" r="4.6"/><circle cx="1561.7" cy="670.3" r="4.6"/><circle cx="1568.9" cy="698.6" r="4.6"/><circle cx="1576.1" cy="680.5" r="4.6"/><circle cx="1583.3" cy="673.2" r="4.6"/><circle cx="1590.6" cy="646.4" r="4.6"/><circle cx="1597.8" cy="636.1" r="4.6"/><circle cx="1605.0" cy="623.3" r="4.6"/><circle cx="1612.2" cy="588.1" r="4.6"/><circle cx="1619.4" cy="566.0" r="4.6"/><circle cx="1626.6" cy="571.1" r="4.6"/><circle cx="1633.9" cy="569.6" r="4.6"/><circle cx="1641.1" cy="578.9" r="4.6"/><circle cx="1648.3" cy="598.5" r="4.6"/><circle cx="1655.5" cy="616.9" r="4.6"/><circle cx="1662.7" cy="634.5" r="4.6"/><circle cx="1669.9" cy="644.5" r="4.6"/><circle cx="1677.1" cy="645.8" r="4.6"/><circle cx="1684.4" cy="659.9" r="4.6"/><circle cx="1691.6" cy="657.4" r="4.6"/><circle cx="1698.8" cy="658.1" r="4.6"/><circle cx="1706.0" cy="653.4" r="4.6"/><circle cx="1713.2" cy="647.3" r="4.6"/><circle cx="1720.4" cy="645.0" r="4.6"/><circle cx="1727.6" cy="646.7" r="4.6"/><circle cx="1734.9" cy="628.5" r="4.6"/><circle cx="1742.1" cy="626.2" r="4.6"/><circle cx="1749.3" cy="622.2" r="4.6"/><circle cx="1756.5" cy="623.5" r="4.6"/><circle cx="1763.7" cy="613.7" r="4.6"/><circle cx="1770.9" cy="616.4" r="4.6"/><circle cx="1778.2" cy="610.6" r="4.6"/><circle cx="1785.4" cy="596.6" r="4.6"/><circle cx="1792.6" cy="595.3" r="4.6"/><circle cx="1799.8" cy="592.6" r="4.6"/><circle cx="1807.0" cy="587.5" r="4.6"/><circle cx="1814.2" cy="595.3" r="4.6"/><circle cx="1821.4" cy="588.6" r="4.6"/><circle cx="1828.7" cy="585.9" r="4.6"/><circle cx="1835.9" cy="592.2" r="4.6"/><circle cx="1843.1" cy="590.2" r="4.6"/><circle cx="1850.3" cy="588.8" r="4.6"/><circle cx="1857.5" cy="594.2" r="4.6"/><circle cx="1864.7" cy="597.6" r="4.6"/><circle cx="1871.9" cy="601.6" r="4.6"/><circle cx="1879.2" cy="609.4" r="4.6"/><circle cx="1886.4" cy="605.2" r="4.6"/><circle cx="1893.6" cy="607.5" r="4.6"/><circle cx="1900.8" cy="611.2" r="4.6"/><circle cx="1908.0" cy="615.2" r="4.6"/><circle cx="1915.2" cy="608.1" r="4.6"/><circle cx="1922.5" cy="614.4" r="4.6"/><circle cx="1929.7" cy="620.7" r="4.6"/><circle cx="1936.9" cy="615.2" r="4.6"/><circle cx="1944.1" cy="620.2" r="4.6"/><circle cx="1951.3" cy="615.0" r="4.6"/><circle cx="1958.5" cy="623.5" r="4.6"/><circle cx="1965.7" cy="626.0" r="4.6"/><circle cx="1973.0" cy="618.5" r="4.6"/><circle cx="1980.2" cy="619.6" r="4.6"/><circle cx="1987.4" cy="605.3" r="4.6"/><circle cx="1994.6" cy="622.9" r="4.6"/><circle cx="2001.8" cy="621.6" r="4.6"/><circle cx="2009.0" cy="630.1" r="4.6"/><circle cx="2016.2" cy="604.5" r="4.6"/><circle cx="2023.5" cy="606.2" r="4.6"/><circle cx="2030.7" cy="624.6" r="4.6"/><circle cx="2037.9" cy="617.4" r="4.6"/><circle cx="2045.1" cy="615.0" r="4.6"/><circle cx="2052.3" cy="626.0" r="4.6"/><circle cx="2059.5" cy="616.1" r="4.6"/><circle cx="2066.8" cy="620.5" r="4.6"/><circle cx="2074.0" cy="617.4" r="4.6"/><circle cx="2081.2" cy="615.4" r="4.6"/><circle cx="2088.4" cy="624.0" r="4.6"/><circle cx="2095.6" cy="617.4" r="4.6"/><circle cx="2102.8" cy="647.3" r="4.6"/></g>
<rect x="642.9" y="32.6" width="366.6" height="128.4" fill="#e6e6e6"/>
<g font-size="26" fill="#000" stroke="#000" stroke-width="0.45"><text x="709.2" y="60" transform="matrix(1 0 0 1.02 0 -1.20)">TA data at 5 ps</text><text x="709.2" y="90.6" transform="matrix(1 0 0 1.02 0 -1.81)">Fit: GSB + ESA</text><text x="709.2" y="121.6" transform="matrix(1 0 0 1.02 0 -2.43)">GSB: -0.1 x GS CD (x0.5)</text><text x="709.2" y="152.4" transform="matrix(1 0 0 1.02 0 -3.05)">ESA: 2 Gaussians (x0.5)</text></g>
<circle cx="676.4" cy="50.6" r="5.8" fill="none" stroke="#2b1f9a" stroke-width="1.6"/>
<line x1="648.6" y1="81.3" x2="704.5" y2="81.3" stroke="#7669db" stroke-width="5"/>
<line x1="648.6" y1="112.5" x2="704.5" y2="112.5" stroke="#111" stroke-width="5"/>
<line x1="648.6" y1="143.4" x2="704.5" y2="143.4" stroke="#e0103a" stroke-width="5"/>
<rect x="1781.1" y="32.7" width="309.9" height="128.4" fill="#e6e6e6"/>
<g font-size="26" fill="#000" stroke="#000" stroke-width="0.45"><text x="1847" y="60.1" transform="matrix(1 0 0 1.02 0 -1.20)">TRCD data at 5 ps</text><text x="1847" y="90.9" transform="matrix(1 0 0 1.02 0 -1.82)">Fit: GSB + HS CD</text><text x="1847" y="122.2" transform="matrix(1 0 0 1.02 0 -2.44)">GSB: -0.12 x GS CD</text><text x="1847" y="153" transform="matrix(1 0 0 1.02 0 -3.06)">HS CD: 2 Gaussians</text></g>
<circle cx="1814.2" cy="51" r="5.8" fill="none" stroke="#2b1f9a" stroke-width="1.6"/>
<line x1="1786.3" y1="82.3" x2="1841.9" y2="82.3" stroke="#7669db" stroke-width="5"/>
<line x1="1786.3" y1="112.6" x2="1841.9" y2="112.6" stroke="#111" stroke-width="5"/>
<line x1="1786.3" y1="143.5" x2="1841.9" y2="143.5" stroke="#e0103a" stroke-width="5"/>
<rect x="686.3" y="526.3" width="323.7" height="41.8" fill="#e6e6e6"/>
<circle cx="719.5" cy="547.3" r="4.6" fill="#1a0fe0"/>
<text x="752.1" y="562.3" font-size="26.1" fill="#000" stroke="#000" stroke-width="0.45" transform="matrix(1 0 0 1.02 0 -11.25)">Residuals: R<tspan font-size="18" dy="-12.5">2</tspan><tspan dy="12.5"> = 0.993</tspan></text>
<rect x="1767" y="526.6" width="323.9" height="41.9" fill="#e6e6e6"/>
<circle cx="1800.2" cy="547.8" r="4.6" fill="#1a0fe0"/>
<text x="1833.2" y="562.8" font-size="26.1" fill="#000" stroke="#000" stroke-width="0.45" transform="matrix(1 0 0 1.02 0 -11.26)">Residuals: R<tspan font-size="18" dy="-12.5">2</tspan><tspan dy="12.5"> = 0.993</tspan></text>
<path d="M1025.6 17.4H123.5V463.3H1025.6V395M1025.6 168V17.4" fill="none" stroke="#262626" stroke-width="1.3"/>
<path d="M173.6 463.3v-10M173.6 17.4v10M273.8 463.3v-10M273.8 17.4v10M374.1 463.3v-10M374.1 17.4v10M474.3 463.3v-10M474.3 17.4v10M574.5 463.3v-10M574.5 17.4v10M674.8 463.3v-10M674.8 17.4v10M775.0 463.3v-10M775.0 17.4v10M875.2 463.3v-10M875.2 17.4v10M975.5 463.3v-10M975.5 17.4v10M123.5 431.4h10M1025.6 431.4h-10M123.5 367.8h10M123.5 304.0h10M123.5 240.3h10M123.5 176.6h10M123.5 112.9h10M1025.6 112.9h-10M123.5 49.2h10M1025.6 49.2h-10" stroke="#262626" stroke-width="1.3" fill="none"/>
<g font-size="29.7" fill="#262626" stroke="#262626" stroke-width="0.45"><text x="173.6" y="500.6" text-anchor="middle" transform="matrix(1 0 0 1.03 0 -15.02)">270</text><text x="273.8" y="500.6" text-anchor="middle" transform="matrix(1 0 0 1.03 0 -15.02)">280</text><text x="374.1" y="500.6" text-anchor="middle" transform="matrix(1 0 0 1.03 0 -15.02)">290</text><text x="474.3" y="500.6" text-anchor="middle" transform="matrix(1 0 0 1.03 0 -15.02)">300</text><text x="574.5" y="500.6" text-anchor="middle" transform="matrix(1 0 0 1.03 0 -15.02)">310</text><text x="674.8" y="500.6" text-anchor="middle" transform="matrix(1 0 0 1.03 0 -15.02)">320</text><text x="775.0" y="500.6" text-anchor="middle" transform="matrix(1 0 0 1.03 0 -15.02)">330</text><text x="875.2" y="500.6" text-anchor="middle" transform="matrix(1 0 0 1.03 0 -15.02)">340</text><text x="975.5" y="500.6" text-anchor="middle" transform="matrix(1 0 0 1.03 0 -15.02)">350</text><text x="113.9" y="442.6" text-anchor="end" transform="matrix(1 0 0 1.03 0 -13.28)">-30</text><text x="113.9" y="378.9" text-anchor="end" transform="matrix(1 0 0 1.03 0 -11.37)">-20</text><text x="113.9" y="315.1" text-anchor="end" transform="matrix(1 0 0 1.03 0 -9.45)">-10</text><text x="113.9" y="251.4" text-anchor="end" transform="matrix(1 0 0 1.03 0 -7.54)">0</text><text x="113.9" y="187.7" text-anchor="end" transform="matrix(1 0 0 1.03 0 -5.63)">10</text><text x="113.9" y="124.0" text-anchor="end" transform="matrix(1 0 0 1.03 0 -3.72)">20</text><text x="113.9" y="60.3" text-anchor="end" transform="matrix(1 0 0 1.03 0 -1.81)">30</text></g>
<rect x="123.5" y="514.8" width="902.3" height="222.6" fill="none" stroke="#262626" stroke-width="1.3"/>
<path d="M173.6 737.4v-10M173.6 514.8v10M273.9 737.4v-10M273.9 514.8v10M374.1 737.4v-10M374.1 514.8v10M474.4 737.4v-10M474.4 514.8v10M574.6 737.4v-10M574.6 514.8v10M674.9 737.4v-10M674.9 514.8v10M775.2 737.4v-10M775.2 514.8v10M875.4 737.4v-10M875.4 514.8v10M975.7 737.4v-10M975.7 514.8v10M123.5 708.5h10M1025.8 708.5h-10M123.5 667.3h10M1025.8 667.3h-10M123.5 626.1h10M1025.8 626.1h-10M123.5 584.9h10M1025.8 584.9h-10M123.5 543.7h10M1025.8 543.7h-10" stroke="#262626" stroke-width="1.3" fill="none"/>
<g font-size="29.7" fill="#262626" stroke="#262626" stroke-width="0.45"><text x="173.6" y="775.0" text-anchor="middle" transform="matrix(1 0 0 1.03 0 -23.25)">270</text><text x="273.9" y="775.0" text-anchor="middle" transform="matrix(1 0 0 1.03 0 -23.25)">280</text><text x="374.1" y="775.0" text-anchor="middle" transform="matrix(1 0 0 1.03 0 -23.25)">290</text><text x="474.4" y="775.0" text-anchor="middle" transform="matrix(1 0 0 1.03 0 -23.25)">300</text><text x="574.6" y="775.0" text-anchor="middle" transform="matrix(1 0 0 1.03 0 -23.25)">310</text><text x="674.9" y="775.0" text-anchor="middle" transform="matrix(1 0 0 1.03 0 -23.25)">320</text><text x="775.2" y="775.0" text-anchor="middle" transform="matrix(1 0 0 1.03 0 -23.25)">330</text><text x="875.4" y="775.0" text-anchor="middle" transform="matrix(1 0 0 1.03 0 -23.25)">340</text><text x="975.7" y="775.0" text-anchor="middle" transform="matrix(1 0 0 1.03 0 -23.25)">350</text><text x="113.9" y="719.6" text-anchor="end" transform="matrix(1 0 0 1.03 0 -21.59)">-2</text><text x="113.9" y="678.4" text-anchor="end" transform="matrix(1 0 0 1.03 0 -20.35)">-1</text><text x="113.9" y="637.2" text-anchor="end" transform="matrix(1 0 0 1.03 0 -19.12)">0</text><text x="113.9" y="596.0" text-anchor="end" transform="matrix(1 0 0 1.03 0 -17.88)">1</text><text x="113.9" y="554.8" text-anchor="end" transform="matrix(1 0 0 1.03 0 -16.64)">2</text></g>
<rect x="1204.8" y="17.6" width="901.9" height="445.9" fill="none" stroke="#262626" stroke-width="1.3"/>
<path d="M1254.9 463.5v-10M1254.9 17.6v10M1355.1 463.5v-10M1355.1 17.6v10M1455.3 463.5v-10M1455.3 17.6v10M1555.5 463.5v-10M1555.5 17.6v10M1655.8 463.5v-10M1655.8 17.6v10M1756.0 463.5v-10M1756.0 17.6v10M1856.2 463.5v-10M1856.2 17.6v10M1956.4 463.5v-10M1956.4 17.6v10M2056.6 463.5v-10M2056.6 17.6v10M1204.8 418.9h10M2106.7 418.9h-10M1204.8 329.7h10M2106.7 329.7h-10M1204.8 240.6h10M2106.7 240.6h-10M1204.8 151.4h10M2106.7 151.4h-10M1204.8 62.2h10M2106.7 62.2h-10" stroke="#262626" stroke-width="1.3" fill="none"/>
<g font-size="29.7" fill="#262626" stroke="#262626" stroke-width="0.45"><text x="1254.9" y="500.6" text-anchor="middle" transform="matrix(1 0 0 1.03 0 -15.02)">270</text><text x="1355.1" y="500.6" text-anchor="middle" transform="matrix(1 0 0 1.03 0 -15.02)">280</text><text x="1455.3" y="500.6" text-anchor="middle" transform="matrix(1 0 0 1.03 0 -15.02)">290</text><text x="1555.5" y="500.6" text-anchor="middle" transform="matrix(1 0 0 1.03 0 -15.02)">300</text><text x="1655.8" y="500.6" text-anchor="middle" transform="matrix(1 0 0 1.03 0 -15.02)">310</text><text x="1756.0" y="500.6" text-anchor="middle" transform="matrix(1 0 0 1.03 0 -15.02)">320</text><text x="1856.2" y="500.6" text-anchor="middle" transform="matrix(1 0 0 1.03 0 -15.02)">330</text><text x="1956.4" y="500.6" text-anchor="middle" transform="matrix(1 0 0 1.03 0 -15.02)">340</text><text x="2056.6" y="500.6" text-anchor="middle" transform="matrix(1 0 0 1.03 0 -15.02)">350</text><text x="1195.2" y="430.0" text-anchor="end" transform="matrix(1 0 0 1.03 0 -12.90)">-0.2</text><text x="1195.2" y="340.8" text-anchor="end" transform="matrix(1 0 0 1.03 0 -10.22)">-0.1</text><text x="1195.2" y="251.7" text-anchor="end" transform="matrix(1 0 0 1.03 0 -7.55)">0</text><text x="1195.2" y="162.5" text-anchor="end" transform="matrix(1 0 0 1.03 0 -4.87)">0.1</text><text x="1195.2" y="73.3" text-anchor="end" transform="matrix(1 0 0 1.03 0 -2.20)">0.2</text></g>
<rect x="1204.8" y="514.9" width="901.9" height="222.6" fill="none" stroke="#262626" stroke-width="1.3"/>
<path d="M1254.9 737.5v-10M1254.9 514.9v10M1355.1 737.5v-10M1355.1 514.9v10M1455.3 737.5v-10M1455.3 514.9v10M1555.5 737.5v-10M1555.5 514.9v10M1655.8 737.5v-10M1655.8 514.9v10M1756.0 737.5v-10M1756.0 514.9v10M1856.2 737.5v-10M1856.2 514.9v10M1956.4 737.5v-10M1956.4 514.9v10M2056.6 737.5v-10M2056.6 514.9v10M1204.8 691.7h10M2106.7 691.7h-10M1204.8 626.2h10M2106.7 626.2h-10M1204.8 560.7h10M2106.7 560.7h-10" stroke="#262626" stroke-width="1.3" fill="none"/>
<g font-size="29.7" fill="#262626" stroke="#262626" stroke-width="0.45"><text x="1254.9" y="775.0" text-anchor="middle" transform="matrix(1 0 0 1.03 0 -23.25)">270</text><text x="1355.1" y="775.0" text-anchor="middle" transform="matrix(1 0 0 1.03 0 -23.25)">280</text><text x="1455.3" y="775.0" text-anchor="middle" transform="matrix(1 0 0 1.03 0 -23.25)">290</text><text x="1555.5" y="775.0" text-anchor="middle" transform="matrix(1 0 0 1.03 0 -23.25)">300</text><text x="1655.8" y="775.0" text-anchor="middle" transform="matrix(1 0 0 1.03 0 -23.25)">310</text><text x="1756.0" y="775.0" text-anchor="middle" transform="matrix(1 0 0 1.03 0 -23.25)">320</text><text x="1856.2" y="775.0" text-anchor="middle" transform="matrix(1 0 0 1.03 0 -23.25)">330</text><text x="1956.4" y="775.0" text-anchor="middle" transform="matrix(1 0 0 1.03 0 -23.25)">340</text><text x="2056.6" y="775.0" text-anchor="middle" transform="matrix(1 0 0 1.03 0 -23.25)">350</text><text x="1195.2" y="702.8" text-anchor="end" transform="matrix(1 0 0 1.03 0 -21.08)">-0.01</text><text x="1195.2" y="637.3" text-anchor="end" transform="matrix(1 0 0 1.03 0 -19.12)">0</text><text x="1195.2" y="571.8" text-anchor="end" transform="matrix(1 0 0 1.03 0 -17.15)">0.01</text></g>
<line x1="1025.8" y1="168" x2="1025.8" y2="395" stroke="#b0b0b0" stroke-width="2.2"/>
<line x1="1016" y1="367.8" x2="1025" y2="367.8" stroke="#b4b4b4" stroke-width="2.6"/>
<line x1="1016" y1="176.6" x2="1025" y2="176.6" stroke="#a8a8a8" stroke-width="2.6"/>
<line x1="1017" y1="240.3" x2="1025" y2="240.3" stroke="#d0d0d0" stroke-width="1.5"/>
<line x1="1017" y1="304.0" x2="1025" y2="304.0" stroke="#d8d8d8" stroke-width="1.5"/>
<text transform="translate(27,241) rotate(-90) scale(1.058,1)" text-anchor="middle" font-size="32" font-weight="bold" fill="#262626" stroke="#262626" stroke-width="0.4">ΔA (mOD)</text>
<text transform="translate(27,628.6) rotate(-90) scale(1.058,1)" text-anchor="middle" font-size="32" font-weight="bold" fill="#262626" stroke="#262626" stroke-width="0.4">ΔA (mOD)</text>
<text transform="translate(1108,241) rotate(-90) scale(1.055,1)" text-anchor="middle" font-size="32" font-weight="bold" fill="#262626" stroke="#262626" stroke-width="0.4">ΔCD (mOD)</text>
<text transform="translate(1108,627.3) rotate(-90) scale(1.055,1)" text-anchor="middle" font-size="32" font-weight="bold" fill="#262626" stroke="#262626" stroke-width="0.4">ΔCD (mOD)</text>
<text x="574.5" y="811" text-anchor="middle" font-size="29.5" font-weight="bold" fill="#262626" stroke="#262626" stroke-width="0.4" transform="matrix(1 0 0 1.015 0 -12.16)">Wavelength (nm)</text>
<text x="1655.8" y="811" text-anchor="middle" font-size="29.5" font-weight="bold" fill="#262626" stroke="#262626" stroke-width="0.4" transform="matrix(1 0 0 1.015 0 -12.16)">Wavelength (nm)</text>
<text x="-1" y="23.6" font-size="34" font-weight="bold" fill="#000">a</text>
<text x="1077" y="23.6" font-size="34" font-weight="bold" fill="#000">b</text>
</svg></body></html>
